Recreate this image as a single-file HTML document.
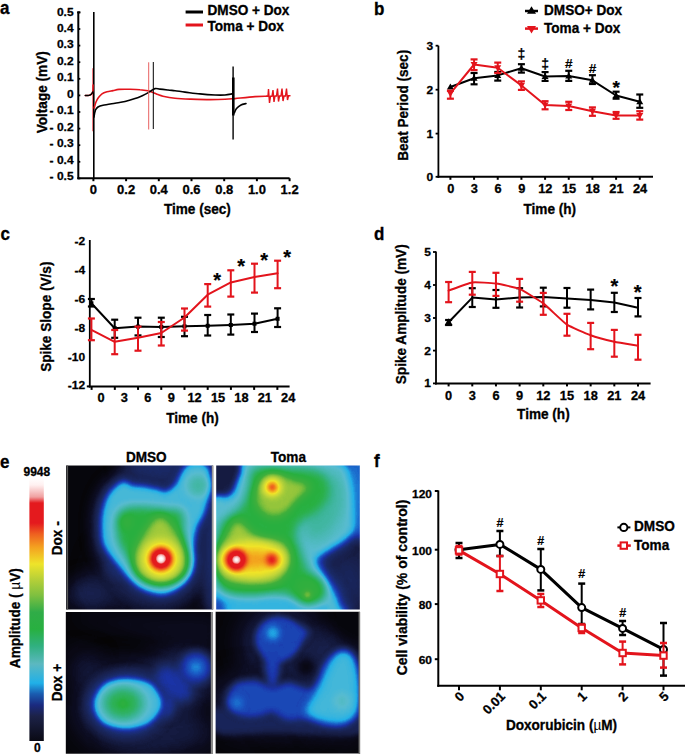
<!DOCTYPE html><html><head><meta charset="utf-8"><style>html,body{margin:0;padding:0;background:#fff;}svg{display:block;}text{font-family:"Liberation Sans", sans-serif;}</style></head><body>
<svg width="685" height="755" viewBox="0 0 685 755">
<rect width="685" height="755" fill="#fff"/>
<text transform="translate(0.10 14.00) scale(1 1.12)" font-size="17" text-anchor="start" font-weight="bold" fill="#000" stroke="#000" stroke-width="0.3">a</text>
<text transform="translate(374.00 14.50) scale(1 1.12)" font-size="17" text-anchor="start" font-weight="bold" fill="#000" stroke="#000" stroke-width="0.3">b</text>
<text transform="translate(0.40 240.00) scale(1 1.12)" font-size="17" text-anchor="start" font-weight="bold" fill="#000" stroke="#000" stroke-width="0.3">c</text>
<text transform="translate(374.00 240.00) scale(1 1.12)" font-size="17" text-anchor="start" font-weight="bold" fill="#000" stroke="#000" stroke-width="0.3">d</text>
<text transform="translate(0.00 468.00) scale(1 1.12)" font-size="17" text-anchor="start" font-weight="bold" fill="#000" stroke="#000" stroke-width="0.3">e</text>
<text transform="translate(374.00 467.40) scale(1 1.12)" font-size="17" text-anchor="start" font-weight="bold" fill="#000" stroke="#000" stroke-width="0.3">f</text>
<line x1="78.3" y1="11.5" x2="78.3" y2="179.2" stroke="#000" stroke-width="2" stroke-linecap="butt"/>
<line x1="77.3" y1="178.2" x2="289.6" y2="178.2" stroke="#000" stroke-width="2" stroke-linecap="butt"/>
<line x1="77.1" y1="12.4" x2="80.3" y2="12.4" stroke="#000" stroke-width="1.8" stroke-linecap="butt"/>
<line x1="78.3" y1="12.4" x2="80.3" y2="12.4" stroke="#000" stroke-width="1.8" stroke-linecap="butt"/>
<text transform="translate(73.60 15.50) scale(1 0.92)" font-size="12" text-anchor="end" font-weight="bold" fill="#000" stroke="#000" stroke-width="0.3">0.5</text>
<line x1="78.3" y1="29.0" x2="80.3" y2="29.0" stroke="#000" stroke-width="1.8" stroke-linecap="butt"/>
<text transform="translate(73.60 31.95) scale(1 0.92)" font-size="12" text-anchor="end" font-weight="bold" fill="#000" stroke="#000" stroke-width="0.3">0.4</text>
<line x1="78.3" y1="45.6" x2="80.3" y2="45.6" stroke="#000" stroke-width="1.8" stroke-linecap="butt"/>
<text transform="translate(73.60 48.40) scale(1 0.92)" font-size="12" text-anchor="end" font-weight="bold" fill="#000" stroke="#000" stroke-width="0.3">0.3</text>
<line x1="78.3" y1="62.2" x2="80.3" y2="62.2" stroke="#000" stroke-width="1.8" stroke-linecap="butt"/>
<text transform="translate(73.60 64.85) scale(1 0.92)" font-size="12" text-anchor="end" font-weight="bold" fill="#000" stroke="#000" stroke-width="0.3">0.2</text>
<line x1="78.3" y1="78.80000000000001" x2="80.3" y2="78.80000000000001" stroke="#000" stroke-width="1.8" stroke-linecap="butt"/>
<text transform="translate(73.60 81.30) scale(1 0.92)" font-size="12" text-anchor="end" font-weight="bold" fill="#000" stroke="#000" stroke-width="0.3">0.1</text>
<line x1="78.3" y1="95.4" x2="80.3" y2="95.4" stroke="#000" stroke-width="1.8" stroke-linecap="butt"/>
<text transform="translate(73.60 97.75) scale(1 0.92)" font-size="12" text-anchor="end" font-weight="bold" fill="#000" stroke="#000" stroke-width="0.3">0</text>
<line x1="78.3" y1="112.00000000000001" x2="80.3" y2="112.00000000000001" stroke="#000" stroke-width="1.8" stroke-linecap="butt"/>
<text transform="translate(73.60 114.20) scale(1 0.92)" font-size="12" text-anchor="end" font-weight="bold" fill="#000" stroke="#000" stroke-width="0.3">- 0.1</text>
<line x1="78.3" y1="128.60000000000002" x2="80.3" y2="128.60000000000002" stroke="#000" stroke-width="1.8" stroke-linecap="butt"/>
<text transform="translate(73.60 130.65) scale(1 0.92)" font-size="12" text-anchor="end" font-weight="bold" fill="#000" stroke="#000" stroke-width="0.3">- 0.2</text>
<line x1="78.3" y1="145.20000000000002" x2="80.3" y2="145.20000000000002" stroke="#000" stroke-width="1.8" stroke-linecap="butt"/>
<text transform="translate(73.60 147.10) scale(1 0.92)" font-size="12" text-anchor="end" font-weight="bold" fill="#000" stroke="#000" stroke-width="0.3">- 0.3</text>
<line x1="78.3" y1="161.8" x2="80.3" y2="161.8" stroke="#000" stroke-width="1.8" stroke-linecap="butt"/>
<text transform="translate(73.60 163.55) scale(1 0.92)" font-size="12" text-anchor="end" font-weight="bold" fill="#000" stroke="#000" stroke-width="0.3">- 0.4</text>
<line x1="78.3" y1="178.4" x2="80.3" y2="178.4" stroke="#000" stroke-width="1.8" stroke-linecap="butt"/>
<text transform="translate(73.60 180.00) scale(1 0.92)" font-size="12" text-anchor="end" font-weight="bold" fill="#000" stroke="#000" stroke-width="0.3">- 0.5</text>
<line x1="93.4" y1="178.2" x2="93.4" y2="181.2" stroke="#000" stroke-width="2" stroke-linecap="butt"/>
<text transform="translate(93.40 194.20) scale(1 1.05)" font-size="13" text-anchor="middle" font-weight="bold" fill="#000" stroke="#000" stroke-width="0.3">0</text>
<line x1="126.10000000000001" y1="178.2" x2="126.10000000000001" y2="181.2" stroke="#000" stroke-width="2" stroke-linecap="butt"/>
<text transform="translate(126.10 194.20) scale(1 1.05)" font-size="13" text-anchor="middle" font-weight="bold" fill="#000" stroke="#000" stroke-width="0.3">0.2</text>
<line x1="158.8" y1="178.2" x2="158.8" y2="181.2" stroke="#000" stroke-width="2" stroke-linecap="butt"/>
<text transform="translate(158.80 194.20) scale(1 1.05)" font-size="13" text-anchor="middle" font-weight="bold" fill="#000" stroke="#000" stroke-width="0.3">0.4</text>
<line x1="191.5" y1="178.2" x2="191.5" y2="181.2" stroke="#000" stroke-width="2" stroke-linecap="butt"/>
<text transform="translate(191.50 194.20) scale(1 1.05)" font-size="13" text-anchor="middle" font-weight="bold" fill="#000" stroke="#000" stroke-width="0.3">0.6</text>
<line x1="224.20000000000002" y1="178.2" x2="224.20000000000002" y2="181.2" stroke="#000" stroke-width="2" stroke-linecap="butt"/>
<text transform="translate(224.20 194.20) scale(1 1.05)" font-size="13" text-anchor="middle" font-weight="bold" fill="#000" stroke="#000" stroke-width="0.3">0.8</text>
<line x1="256.9" y1="178.2" x2="256.9" y2="181.2" stroke="#000" stroke-width="2" stroke-linecap="butt"/>
<text transform="translate(256.90 194.20) scale(1 1.05)" font-size="13" text-anchor="middle" font-weight="bold" fill="#000" stroke="#000" stroke-width="0.3">1.0</text>
<line x1="289.6" y1="178.2" x2="289.6" y2="181.2" stroke="#000" stroke-width="2" stroke-linecap="butt"/>
<text transform="translate(289.60 194.20) scale(1 1.05)" font-size="13" text-anchor="middle" font-weight="bold" fill="#000" stroke="#000" stroke-width="0.3">1.2</text>
<text transform="translate(197.40 213.80) scale(1 1.1)" font-size="13.6" text-anchor="middle" font-weight="bold" fill="#000" stroke="#000" stroke-width="0.3">Time (sec)</text>
<text transform="translate(46.50 92.30) rotate(-90) scale(1 1.1)" font-size="13.6" text-anchor="middle" font-weight="bold" fill="#000" stroke="#000" stroke-width="0.3">Voltage (mV)</text>
<line x1="185.6" y1="12" x2="203" y2="12" stroke="#000" stroke-width="3" stroke-linecap="butt"/>
<line x1="185.6" y1="25" x2="203" y2="25" stroke="#e3141c" stroke-width="3" stroke-linecap="butt"/>
<text transform="translate(207.50 15.00) scale(1 1.1)" font-size="13.6" text-anchor="start" font-weight="bold" fill="#000" stroke="#000" stroke-width="0.3">DMSO + Dox</text>
<text transform="translate(207.50 30.80) scale(1 1.1)" font-size="13.6" text-anchor="start" font-weight="bold" fill="#000" stroke="#000" stroke-width="0.3">Toma + Dox</text>
<line x1="93.1" y1="68.2" x2="93.1" y2="131.2" stroke="#e3141c" stroke-width="1.3" stroke-linecap="butt"/>
<line x1="93.8" y1="12" x2="93.8" y2="178" stroke="#000" stroke-width="1.6" stroke-linecap="butt"/>
<path d="M85.3,95.6 C85.9,95.6 88.0,95.7 89.0,95.4 C90.0,95.1 90.9,94.7 91.5,94.0 C92.1,93.3 92.5,93.0 92.8,91.5 C93.1,90.0 93.0,86.1 93.1,85.0" fill="none" stroke="#e3141c" stroke-width="1.5" stroke-linejoin="round" stroke-linecap="round"/>
<path d="M85.3,95.6 C85.9,95.6 88.0,95.7 89.0,95.4 C90.0,95.1 90.9,94.6 91.5,94.0 C92.1,93.4 92.6,92.3 92.8,92.0" fill="none" stroke="#000" stroke-width="1.5" stroke-linejoin="round" stroke-linecap="round"/>
<path d="M94.2,108.0 C94.5,107.0 95.3,103.8 96.0,102.0 C96.7,100.2 97.5,98.9 98.5,97.5 C99.5,96.1 100.6,94.8 102.0,93.8 C103.4,92.8 105.2,92.3 107.0,91.8 C108.8,91.3 111.0,91.0 113.0,90.6 C115.0,90.2 116.2,89.6 119.0,89.4 C121.8,89.2 126.5,89.2 130.0,89.3 C133.5,89.4 137.0,89.5 140.0,89.8 C143.0,90.0 145.8,90.4 148.0,90.8 C150.2,91.2 151.3,91.8 153.0,92.4 C154.7,93.0 156.3,94.0 158.0,94.6 C159.7,95.2 160.2,95.6 163.0,96.2 C165.8,96.8 170.5,97.7 175.0,98.2 C179.5,98.7 184.2,98.9 190.0,99.1 C195.8,99.3 204.2,99.6 210.0,99.6 C215.8,99.6 220.8,99.5 225.0,99.3 C229.2,99.1 230.0,99.0 235.0,98.6 C240.0,98.1 249.5,97.0 255.0,96.6 C260.5,96.2 265.8,96.3 268.0,96.2" fill="none" stroke="#e3141c" stroke-width="1.6" stroke-linejoin="round" stroke-linecap="round"/>
<path d="M94.0,117.0 C94.2,115.8 94.8,111.7 95.5,110.0 C96.2,108.3 96.8,107.8 98.0,107.0 C99.2,106.2 100.2,105.8 103.0,105.2 C105.8,104.6 111.3,103.8 115.0,103.2 C118.7,102.6 121.7,102.3 125.0,101.5 C128.3,100.7 132.5,99.4 135.0,98.6 C137.5,97.8 138.3,97.5 140.0,96.8 C141.7,96.1 143.3,95.3 145.0,94.4 C146.7,93.5 148.3,92.5 150.0,91.5 C151.7,90.5 153.3,89.0 155.0,88.6 C156.7,88.2 157.8,88.9 160.0,89.1 C162.2,89.3 165.5,89.7 168.0,90.0 C170.5,90.3 172.2,90.4 175.0,90.7 C177.8,91.0 180.8,91.6 185.0,92.1 C189.2,92.6 195.0,93.4 200.0,93.9 C205.0,94.4 210.8,94.8 215.0,95.0 C219.2,95.2 222.2,95.2 225.0,95.0 C227.8,94.8 230.8,94.1 232.0,93.9" fill="none" stroke="#000" stroke-width="1.6" stroke-linejoin="round" stroke-linecap="round"/>
<line x1="148.7" y1="62.3" x2="148.7" y2="129.5" stroke="#e86060" stroke-width="1.0" stroke-linecap="butt"/>
<line x1="153.3" y1="62" x2="153.3" y2="129" stroke="#000" stroke-width="1.0" stroke-linecap="butt"/>
<line x1="233.1" y1="66.6" x2="233.1" y2="139.6" stroke="#000" stroke-width="1.4" stroke-linecap="butt"/>
<line x1="233.3" y1="77.5" x2="233.3" y2="115.5" stroke="#000" stroke-width="2.6" stroke-linecap="butt"/>
<path d="M234.3,113.0 C234.7,112.2 235.4,109.8 236.5,108.5 C237.6,107.2 239.4,105.8 241.0,105.0 C242.6,104.2 245.2,103.8 246.0,103.5" fill="none" stroke="#000" stroke-width="1.6" stroke-linejoin="round" stroke-linecap="round"/>
<polyline points="266.5,96.3 268.0,96.3 268.5,89.0 269.5,103.0 270.5,96.3 272.0,96.3 273.0,90.0 274.0,102.0 275.0,96.0 276.5,96.0 277.5,88.5 278.5,101.5 279.5,96.0 281.0,96.0 282.0,88.5 283.0,101.0 284.0,96.0 285.5,96.0 286.5,88.5 287.5,100.0 288.5,95.8 290.0,95.8" fill="none" stroke="#e3141c" stroke-width="1.4" stroke-linejoin="miter" stroke-linecap="round"/>
<line x1="438.4" y1="45.7" x2="438.4" y2="177.8" stroke="#000" stroke-width="1.8" stroke-linecap="butt"/>
<line x1="437.4" y1="176.8" x2="653" y2="176.8" stroke="#000" stroke-width="2" stroke-linecap="butt"/>
<line x1="435.59999999999997" y1="176.8" x2="438.4" y2="176.8" stroke="#000" stroke-width="1.8" stroke-linecap="butt"/>
<text transform="translate(433.20 180.75) scale(1 0.92)" font-size="12" text-anchor="end" font-weight="bold" fill="#000" stroke="#000" stroke-width="0.3">0</text>
<line x1="435.59999999999997" y1="133.6" x2="438.4" y2="133.6" stroke="#000" stroke-width="1.8" stroke-linecap="butt"/>
<text transform="translate(433.20 137.55) scale(1 0.92)" font-size="12" text-anchor="end" font-weight="bold" fill="#000" stroke="#000" stroke-width="0.3">1</text>
<line x1="435.59999999999997" y1="89.7" x2="438.4" y2="89.7" stroke="#000" stroke-width="1.8" stroke-linecap="butt"/>
<text transform="translate(433.20 93.65) scale(1 0.92)" font-size="12" text-anchor="end" font-weight="bold" fill="#000" stroke="#000" stroke-width="0.3">2</text>
<line x1="435.59999999999997" y1="45.7" x2="438.4" y2="45.7" stroke="#000" stroke-width="1.8" stroke-linecap="butt"/>
<text transform="translate(433.20 49.65) scale(1 0.92)" font-size="12" text-anchor="end" font-weight="bold" fill="#000" stroke="#000" stroke-width="0.3">3</text>
<line x1="450.4" y1="176.8" x2="450.4" y2="179.8" stroke="#000" stroke-width="2" stroke-linecap="butt"/>
<text transform="translate(450.70 192.70) scale(1 1.05)" font-size="12.8" text-anchor="middle" font-weight="bold" fill="#000" stroke="#000" stroke-width="0.3">0</text>
<line x1="474.07" y1="176.8" x2="474.07" y2="179.8" stroke="#000" stroke-width="2" stroke-linecap="butt"/>
<text transform="translate(474.37 192.70) scale(1 1.05)" font-size="12.8" text-anchor="middle" font-weight="bold" fill="#000" stroke="#000" stroke-width="0.3">3</text>
<line x1="497.74" y1="176.8" x2="497.74" y2="179.8" stroke="#000" stroke-width="2" stroke-linecap="butt"/>
<text transform="translate(498.04 192.70) scale(1 1.05)" font-size="12.8" text-anchor="middle" font-weight="bold" fill="#000" stroke="#000" stroke-width="0.3">6</text>
<line x1="521.41" y1="176.8" x2="521.41" y2="179.8" stroke="#000" stroke-width="2" stroke-linecap="butt"/>
<text transform="translate(521.71 192.70) scale(1 1.05)" font-size="12.8" text-anchor="middle" font-weight="bold" fill="#000" stroke="#000" stroke-width="0.3">9</text>
<line x1="545.0799999999999" y1="176.8" x2="545.0799999999999" y2="179.8" stroke="#000" stroke-width="2" stroke-linecap="butt"/>
<text transform="translate(545.38 192.70) scale(1 1.05)" font-size="12.8" text-anchor="middle" font-weight="bold" fill="#000" stroke="#000" stroke-width="0.3">12</text>
<line x1="568.75" y1="176.8" x2="568.75" y2="179.8" stroke="#000" stroke-width="2" stroke-linecap="butt"/>
<text transform="translate(569.05 192.70) scale(1 1.05)" font-size="12.8" text-anchor="middle" font-weight="bold" fill="#000" stroke="#000" stroke-width="0.3">15</text>
<line x1="592.42" y1="176.8" x2="592.42" y2="179.8" stroke="#000" stroke-width="2" stroke-linecap="butt"/>
<text transform="translate(592.72 192.70) scale(1 1.05)" font-size="12.8" text-anchor="middle" font-weight="bold" fill="#000" stroke="#000" stroke-width="0.3">18</text>
<line x1="616.0899999999999" y1="176.8" x2="616.0899999999999" y2="179.8" stroke="#000" stroke-width="2" stroke-linecap="butt"/>
<text transform="translate(616.39 192.70) scale(1 1.05)" font-size="12.8" text-anchor="middle" font-weight="bold" fill="#000" stroke="#000" stroke-width="0.3">21</text>
<line x1="639.76" y1="176.8" x2="639.76" y2="179.8" stroke="#000" stroke-width="2" stroke-linecap="butt"/>
<text transform="translate(640.06 192.70) scale(1 1.05)" font-size="12.8" text-anchor="middle" font-weight="bold" fill="#000" stroke="#000" stroke-width="0.3">24</text>
<text transform="translate(549.80 214.10) scale(1 1.1)" font-size="13.6" text-anchor="middle" font-weight="bold" fill="#000" stroke="#000" stroke-width="0.3">Time (h)</text>
<text transform="translate(407.50 105.30) rotate(-90) scale(1 1.1)" font-size="13.6" text-anchor="middle" font-weight="bold" fill="#000" stroke="#000" stroke-width="0.3">Beat Period (sec)</text>
<line x1="525" y1="11" x2="538" y2="11" stroke="#000" stroke-width="2.5" stroke-linecap="butt"/>
<path d="M531.5,6.2 L536,13.8 L527,13.8 Z" fill="#000"/>
<line x1="525" y1="28.6" x2="538" y2="28.6" stroke="#e3141c" stroke-width="2.5" stroke-linecap="butt"/>
<path d="M531.5,33.6 L536,26 L527,26 Z" fill="#e3141c"/>
<text transform="translate(544.00 15.00) scale(1 1.1)" font-size="13.6" text-anchor="start" font-weight="bold" fill="#000" stroke="#000" stroke-width="0.3">DMSO+ Dox</text>
<text transform="translate(544.00 32.80) scale(1 1.1)" font-size="13.6" text-anchor="start" font-weight="bold" fill="#000" stroke="#000" stroke-width="0.3">Toma + Dox</text>
<line x1="474.07" y1="73" x2="474.07" y2="84.3" stroke="#000" stroke-width="2" stroke-linecap="butt"/>
<line x1="470.57" y1="73" x2="477.57" y2="73" stroke="#000" stroke-width="2.2" stroke-linecap="butt"/>
<line x1="470.57" y1="84.3" x2="477.57" y2="84.3" stroke="#000" stroke-width="2.2" stroke-linecap="butt"/>
<line x1="497.74" y1="72" x2="497.74" y2="80.6" stroke="#000" stroke-width="2" stroke-linecap="butt"/>
<line x1="494.24" y1="72" x2="501.24" y2="72" stroke="#000" stroke-width="2.2" stroke-linecap="butt"/>
<line x1="494.24" y1="80.6" x2="501.24" y2="80.6" stroke="#000" stroke-width="2.2" stroke-linecap="butt"/>
<line x1="521.41" y1="64.2" x2="521.41" y2="72.6" stroke="#000" stroke-width="2" stroke-linecap="butt"/>
<line x1="517.91" y1="64.2" x2="524.91" y2="64.2" stroke="#000" stroke-width="2.2" stroke-linecap="butt"/>
<line x1="517.91" y1="72.6" x2="524.91" y2="72.6" stroke="#000" stroke-width="2.2" stroke-linecap="butt"/>
<line x1="545.0799999999999" y1="72.1" x2="545.0799999999999" y2="80.9" stroke="#000" stroke-width="2" stroke-linecap="butt"/>
<line x1="541.5799999999999" y1="72.1" x2="548.5799999999999" y2="72.1" stroke="#000" stroke-width="2.2" stroke-linecap="butt"/>
<line x1="541.5799999999999" y1="80.9" x2="548.5799999999999" y2="80.9" stroke="#000" stroke-width="2.2" stroke-linecap="butt"/>
<line x1="568.75" y1="70.8" x2="568.75" y2="80.9" stroke="#000" stroke-width="2" stroke-linecap="butt"/>
<line x1="565.25" y1="70.8" x2="572.25" y2="70.8" stroke="#000" stroke-width="2.2" stroke-linecap="butt"/>
<line x1="565.25" y1="80.9" x2="572.25" y2="80.9" stroke="#000" stroke-width="2.2" stroke-linecap="butt"/>
<line x1="592.42" y1="75.2" x2="592.42" y2="84" stroke="#000" stroke-width="2" stroke-linecap="butt"/>
<line x1="588.92" y1="75.2" x2="595.92" y2="75.2" stroke="#000" stroke-width="2.2" stroke-linecap="butt"/>
<line x1="588.92" y1="84" x2="595.92" y2="84" stroke="#000" stroke-width="2.2" stroke-linecap="butt"/>
<line x1="616.0899999999999" y1="91.7" x2="616.0899999999999" y2="98.7" stroke="#000" stroke-width="2" stroke-linecap="butt"/>
<line x1="612.5899999999999" y1="91.7" x2="619.5899999999999" y2="91.7" stroke="#000" stroke-width="2.2" stroke-linecap="butt"/>
<line x1="612.5899999999999" y1="98.7" x2="619.5899999999999" y2="98.7" stroke="#000" stroke-width="2.2" stroke-linecap="butt"/>
<line x1="639.76" y1="94.5" x2="639.76" y2="107.8" stroke="#000" stroke-width="2" stroke-linecap="butt"/>
<line x1="636.26" y1="94.5" x2="643.26" y2="94.5" stroke="#000" stroke-width="2.2" stroke-linecap="butt"/>
<line x1="636.26" y1="107.8" x2="643.26" y2="107.8" stroke="#000" stroke-width="2.2" stroke-linecap="butt"/>
<polyline points="450.4,87.0 474.1,78.2 497.7,75.4 521.4,68.2 545.1,76.5 568.8,76.1 592.4,80.3 616.1,95.5 639.8,101.7" fill="none" stroke="#000" stroke-width="2" stroke-linejoin="round" stroke-linecap="round"/>
<path d="M450.4,83.5 L453.9,89.5 L446.9,89.5 Z" fill="#000"/>
<path d="M474.07,74.7 L477.57,80.7 L470.57,80.7 Z" fill="#000"/>
<path d="M497.74,71.9 L501.24,77.9 L494.24,77.9 Z" fill="#000"/>
<path d="M521.41,64.7 L524.91,70.7 L517.91,70.7 Z" fill="#000"/>
<path d="M545.0799999999999,73.0 L548.5799999999999,79.0 L541.5799999999999,79.0 Z" fill="#000"/>
<path d="M568.75,72.6 L572.25,78.6 L565.25,78.6 Z" fill="#000"/>
<path d="M592.42,76.8 L595.92,82.8 L588.92,82.8 Z" fill="#000"/>
<path d="M616.0899999999999,92.0 L619.5899999999999,98.0 L612.5899999999999,98.0 Z" fill="#000"/>
<path d="M639.76,98.2 L643.26,104.2 L636.26,104.2 Z" fill="#000"/>
<line x1="450.4" y1="90.7" x2="450.4" y2="98.7" stroke="#e3141c" stroke-width="2" stroke-linecap="butt"/>
<line x1="446.9" y1="90.7" x2="453.9" y2="90.7" stroke="#e3141c" stroke-width="2.2" stroke-linecap="butt"/>
<line x1="446.9" y1="98.7" x2="453.9" y2="98.7" stroke="#e3141c" stroke-width="2.2" stroke-linecap="butt"/>
<line x1="474.07" y1="59.4" x2="474.07" y2="70.1" stroke="#e3141c" stroke-width="2" stroke-linecap="butt"/>
<line x1="470.57" y1="59.4" x2="477.57" y2="59.4" stroke="#e3141c" stroke-width="2.2" stroke-linecap="butt"/>
<line x1="470.57" y1="70.1" x2="477.57" y2="70.1" stroke="#e3141c" stroke-width="2.2" stroke-linecap="butt"/>
<line x1="497.74" y1="62.6" x2="497.74" y2="73" stroke="#e3141c" stroke-width="2" stroke-linecap="butt"/>
<line x1="494.24" y1="62.6" x2="501.24" y2="62.6" stroke="#e3141c" stroke-width="2.2" stroke-linecap="butt"/>
<line x1="494.24" y1="73" x2="501.24" y2="73" stroke="#e3141c" stroke-width="2.2" stroke-linecap="butt"/>
<line x1="521.41" y1="81.4" x2="521.41" y2="89.9" stroke="#e3141c" stroke-width="2" stroke-linecap="butt"/>
<line x1="517.91" y1="81.4" x2="524.91" y2="81.4" stroke="#e3141c" stroke-width="2.2" stroke-linecap="butt"/>
<line x1="517.91" y1="89.9" x2="524.91" y2="89.9" stroke="#e3141c" stroke-width="2.2" stroke-linecap="butt"/>
<line x1="545.0799999999999" y1="101.2" x2="545.0799999999999" y2="109.3" stroke="#e3141c" stroke-width="2" stroke-linecap="butt"/>
<line x1="541.5799999999999" y1="101.2" x2="548.5799999999999" y2="101.2" stroke="#e3141c" stroke-width="2.2" stroke-linecap="butt"/>
<line x1="541.5799999999999" y1="109.3" x2="548.5799999999999" y2="109.3" stroke="#e3141c" stroke-width="2.2" stroke-linecap="butt"/>
<line x1="568.75" y1="101.8" x2="568.75" y2="110" stroke="#e3141c" stroke-width="2" stroke-linecap="butt"/>
<line x1="565.25" y1="101.8" x2="572.25" y2="101.8" stroke="#e3141c" stroke-width="2.2" stroke-linecap="butt"/>
<line x1="565.25" y1="110" x2="572.25" y2="110" stroke="#e3141c" stroke-width="2.2" stroke-linecap="butt"/>
<line x1="592.42" y1="107.4" x2="592.42" y2="115.8" stroke="#e3141c" stroke-width="2" stroke-linecap="butt"/>
<line x1="588.92" y1="107.4" x2="595.92" y2="107.4" stroke="#e3141c" stroke-width="2.2" stroke-linecap="butt"/>
<line x1="588.92" y1="115.8" x2="595.92" y2="115.8" stroke="#e3141c" stroke-width="2.2" stroke-linecap="butt"/>
<line x1="616.0899999999999" y1="112" x2="616.0899999999999" y2="118.8" stroke="#e3141c" stroke-width="2" stroke-linecap="butt"/>
<line x1="612.5899999999999" y1="112" x2="619.5899999999999" y2="112" stroke="#e3141c" stroke-width="2.2" stroke-linecap="butt"/>
<line x1="612.5899999999999" y1="118.8" x2="619.5899999999999" y2="118.8" stroke="#e3141c" stroke-width="2.2" stroke-linecap="butt"/>
<line x1="639.76" y1="111.2" x2="639.76" y2="119.6" stroke="#e3141c" stroke-width="2" stroke-linecap="butt"/>
<line x1="636.26" y1="111.2" x2="643.26" y2="111.2" stroke="#e3141c" stroke-width="2.2" stroke-linecap="butt"/>
<line x1="636.26" y1="119.6" x2="643.26" y2="119.6" stroke="#e3141c" stroke-width="2.2" stroke-linecap="butt"/>
<polyline points="450.4,93.4 474.1,64.5 497.7,67.7 521.4,85.4 545.1,105.0 568.8,105.9 592.4,111.2 616.1,115.4 639.8,115.4" fill="none" stroke="#e3141c" stroke-width="2" stroke-linejoin="round" stroke-linecap="round"/>
<path d="M450.4,96.9 L453.9,90.9 L446.9,90.9 Z" fill="#e3141c"/>
<path d="M474.07,68.0 L477.57,62.0 L470.57,62.0 Z" fill="#e3141c"/>
<path d="M497.74,71.2 L501.24,65.2 L494.24,65.2 Z" fill="#e3141c"/>
<path d="M521.41,88.9 L524.91,82.9 L517.91,82.9 Z" fill="#e3141c"/>
<path d="M545.0799999999999,108.5 L548.5799999999999,102.5 L541.5799999999999,102.5 Z" fill="#e3141c"/>
<path d="M568.75,109.4 L572.25,103.4 L565.25,103.4 Z" fill="#e3141c"/>
<path d="M592.42,114.7 L595.92,108.7 L588.92,108.7 Z" fill="#e3141c"/>
<path d="M616.0899999999999,118.9 L619.5899999999999,112.9 L612.5899999999999,112.9 Z" fill="#e3141c"/>
<path d="M639.76,118.9 L643.26,112.9 L636.26,112.9 Z" fill="#e3141c"/>
<text transform="translate(521.41 58.69)" font-size="14" text-anchor="middle" font-weight="bold" fill="#000" stroke="#000" stroke-width="0.2">‡</text>
<text transform="translate(545.08 68.69)" font-size="14" text-anchor="middle" font-weight="bold" fill="#000" stroke="#000" stroke-width="0.2">‡</text>
<text transform="translate(568.75 67.72)" font-size="13.5" text-anchor="middle" font-weight="bold" fill="#000" stroke="#000" stroke-width="0.2">#</text>
<text transform="translate(592.42 72.52)" font-size="13.5" text-anchor="middle" font-weight="bold" fill="#000" stroke="#000" stroke-width="0.2">#</text>
<text transform="translate(616.09 93.79)" font-size="19" text-anchor="middle" font-weight="bold" fill="#000" stroke="#000" stroke-width="0.2">*</text>
<line x1="89.8" y1="240" x2="89.8" y2="387.4" stroke="#000" stroke-width="1.8" stroke-linecap="butt"/>
<line x1="88.8" y1="386.4" x2="289.6" y2="386.4" stroke="#000" stroke-width="2" stroke-linecap="butt"/>
<line x1="86.8" y1="386.4" x2="89.8" y2="386.4" stroke="#000" stroke-width="2" stroke-linecap="butt"/>
<text transform="translate(85.20 244.95) scale(1 0.92)" font-size="12" text-anchor="end" font-weight="bold" fill="#000" stroke="#000" stroke-width="0.3">-2</text>
<text transform="translate(85.20 273.85) scale(1 0.92)" font-size="12" text-anchor="end" font-weight="bold" fill="#000" stroke="#000" stroke-width="0.3">-4</text>
<text transform="translate(85.20 302.75) scale(1 0.92)" font-size="12" text-anchor="end" font-weight="bold" fill="#000" stroke="#000" stroke-width="0.3">-6</text>
<text transform="translate(85.20 331.65) scale(1 0.92)" font-size="12" text-anchor="end" font-weight="bold" fill="#000" stroke="#000" stroke-width="0.3">-8</text>
<text transform="translate(85.20 360.55) scale(1 0.92)" font-size="12" text-anchor="end" font-weight="bold" fill="#000" stroke="#000" stroke-width="0.3">-10</text>
<text transform="translate(85.20 389.45) scale(1 0.92)" font-size="12" text-anchor="end" font-weight="bold" fill="#000" stroke="#000" stroke-width="0.3">-12</text>
<line x1="91.6" y1="386.4" x2="91.6" y2="389.9" stroke="#000" stroke-width="2" stroke-linecap="butt"/>
<text transform="translate(101.00 401.80) scale(1 1.05)" font-size="12.8" text-anchor="middle" font-weight="bold" fill="#000" stroke="#000" stroke-width="0.3">0</text>
<line x1="114.82" y1="386.4" x2="114.82" y2="389.9" stroke="#000" stroke-width="2" stroke-linecap="butt"/>
<text transform="translate(124.40 401.80) scale(1 1.05)" font-size="12.8" text-anchor="middle" font-weight="bold" fill="#000" stroke="#000" stroke-width="0.3">3</text>
<line x1="138.04" y1="386.4" x2="138.04" y2="389.9" stroke="#000" stroke-width="2" stroke-linecap="butt"/>
<text transform="translate(147.80 401.80) scale(1 1.05)" font-size="12.8" text-anchor="middle" font-weight="bold" fill="#000" stroke="#000" stroke-width="0.3">6</text>
<line x1="161.26" y1="386.4" x2="161.26" y2="389.9" stroke="#000" stroke-width="2" stroke-linecap="butt"/>
<text transform="translate(171.20 401.80) scale(1 1.05)" font-size="12.8" text-anchor="middle" font-weight="bold" fill="#000" stroke="#000" stroke-width="0.3">9</text>
<line x1="184.48" y1="386.4" x2="184.48" y2="389.9" stroke="#000" stroke-width="2" stroke-linecap="butt"/>
<text transform="translate(194.60 401.80) scale(1 1.05)" font-size="12.8" text-anchor="middle" font-weight="bold" fill="#000" stroke="#000" stroke-width="0.3">12</text>
<line x1="207.7" y1="386.4" x2="207.7" y2="389.9" stroke="#000" stroke-width="2" stroke-linecap="butt"/>
<text transform="translate(218.00 401.80) scale(1 1.05)" font-size="12.8" text-anchor="middle" font-weight="bold" fill="#000" stroke="#000" stroke-width="0.3">15</text>
<line x1="230.92" y1="386.4" x2="230.92" y2="389.9" stroke="#000" stroke-width="2" stroke-linecap="butt"/>
<text transform="translate(241.40 401.80) scale(1 1.05)" font-size="12.8" text-anchor="middle" font-weight="bold" fill="#000" stroke="#000" stroke-width="0.3">18</text>
<line x1="254.14" y1="386.4" x2="254.14" y2="389.9" stroke="#000" stroke-width="2" stroke-linecap="butt"/>
<text transform="translate(264.80 401.80) scale(1 1.05)" font-size="12.8" text-anchor="middle" font-weight="bold" fill="#000" stroke="#000" stroke-width="0.3">21</text>
<line x1="277.36" y1="386.4" x2="277.36" y2="389.9" stroke="#000" stroke-width="2" stroke-linecap="butt"/>
<text transform="translate(288.20 401.80) scale(1 1.05)" font-size="12.8" text-anchor="middle" font-weight="bold" fill="#000" stroke="#000" stroke-width="0.3">24</text>
<text transform="translate(192.50 423.10) scale(1 1.1)" font-size="13.6" text-anchor="middle" font-weight="bold" fill="#000" stroke="#000" stroke-width="0.3">Time (h)</text>
<text transform="translate(51.30 316.70) rotate(-90) scale(1 1.1)" font-size="13.6" text-anchor="middle" font-weight="bold" fill="#000" stroke="#000" stroke-width="0.3">Spike Slope (V/s)</text>
<line x1="91.4" y1="299" x2="91.4" y2="306.5" stroke="#000" stroke-width="2" stroke-linecap="butt"/>
<line x1="87.9" y1="299" x2="94.9" y2="299" stroke="#000" stroke-width="2.2" stroke-linecap="butt"/>
<line x1="87.9" y1="306.5" x2="94.9" y2="306.5" stroke="#000" stroke-width="2.2" stroke-linecap="butt"/>
<line x1="114.7" y1="319.7" x2="114.7" y2="337.8" stroke="#000" stroke-width="2" stroke-linecap="butt"/>
<line x1="111.2" y1="319.7" x2="118.2" y2="319.7" stroke="#000" stroke-width="2.2" stroke-linecap="butt"/>
<line x1="111.2" y1="337.8" x2="118.2" y2="337.8" stroke="#000" stroke-width="2.2" stroke-linecap="butt"/>
<line x1="138" y1="317.7" x2="138" y2="335.4" stroke="#000" stroke-width="2" stroke-linecap="butt"/>
<line x1="134.5" y1="317.7" x2="141.5" y2="317.7" stroke="#000" stroke-width="2.2" stroke-linecap="butt"/>
<line x1="134.5" y1="335.4" x2="141.5" y2="335.4" stroke="#000" stroke-width="2.2" stroke-linecap="butt"/>
<line x1="161.3" y1="317.7" x2="161.3" y2="337" stroke="#000" stroke-width="2" stroke-linecap="butt"/>
<line x1="157.8" y1="317.7" x2="164.8" y2="317.7" stroke="#000" stroke-width="2.2" stroke-linecap="butt"/>
<line x1="157.8" y1="337" x2="164.8" y2="337" stroke="#000" stroke-width="2.2" stroke-linecap="butt"/>
<line x1="184.5" y1="316.8" x2="184.5" y2="336.2" stroke="#000" stroke-width="2" stroke-linecap="butt"/>
<line x1="181.0" y1="316.8" x2="188.0" y2="316.8" stroke="#000" stroke-width="2.2" stroke-linecap="butt"/>
<line x1="181.0" y1="336.2" x2="188.0" y2="336.2" stroke="#000" stroke-width="2.2" stroke-linecap="butt"/>
<line x1="207.7" y1="315" x2="207.7" y2="335.5" stroke="#000" stroke-width="2" stroke-linecap="butt"/>
<line x1="204.2" y1="315" x2="211.2" y2="315" stroke="#000" stroke-width="2.2" stroke-linecap="butt"/>
<line x1="204.2" y1="335.5" x2="211.2" y2="335.5" stroke="#000" stroke-width="2.2" stroke-linecap="butt"/>
<line x1="230.8" y1="314.5" x2="230.8" y2="334.6" stroke="#000" stroke-width="2" stroke-linecap="butt"/>
<line x1="227.3" y1="314.5" x2="234.3" y2="314.5" stroke="#000" stroke-width="2.2" stroke-linecap="butt"/>
<line x1="227.3" y1="334.6" x2="234.3" y2="334.6" stroke="#000" stroke-width="2.2" stroke-linecap="butt"/>
<line x1="254.5" y1="313.6" x2="254.5" y2="332" stroke="#000" stroke-width="2" stroke-linecap="butt"/>
<line x1="251.0" y1="313.6" x2="258.0" y2="313.6" stroke="#000" stroke-width="2.2" stroke-linecap="butt"/>
<line x1="251.0" y1="332" x2="258.0" y2="332" stroke="#000" stroke-width="2.2" stroke-linecap="butt"/>
<line x1="277.6" y1="308.3" x2="277.6" y2="327" stroke="#000" stroke-width="2" stroke-linecap="butt"/>
<line x1="274.1" y1="308.3" x2="281.1" y2="308.3" stroke="#000" stroke-width="2.2" stroke-linecap="butt"/>
<line x1="274.1" y1="327" x2="281.1" y2="327" stroke="#000" stroke-width="2.2" stroke-linecap="butt"/>
<polyline points="91.4,303.3 114.7,328.2 138.0,326.6 161.3,327.0 184.5,326.3 207.7,325.8 230.8,325.0 254.5,323.7 277.6,318.8" fill="none" stroke="#000" stroke-width="2" stroke-linejoin="round" stroke-linecap="round"/>
<rect x="89.4" y="301.3" width="4" height="4" fill="#000"/>
<rect x="112.7" y="326.2" width="4" height="4" fill="#000"/>
<rect x="136" y="324.6" width="4" height="4" fill="#000"/>
<rect x="159.3" y="325" width="4" height="4" fill="#000"/>
<rect x="182.5" y="324.3" width="4" height="4" fill="#000"/>
<rect x="205.7" y="323.8" width="4" height="4" fill="#000"/>
<rect x="228.8" y="323" width="4" height="4" fill="#000"/>
<rect x="252.5" y="321.7" width="4" height="4" fill="#000"/>
<rect x="275.6" y="316.8" width="4" height="4" fill="#000"/>
<line x1="91.4" y1="318.5" x2="91.4" y2="340.2" stroke="#e3141c" stroke-width="2" stroke-linecap="butt"/>
<line x1="87.9" y1="318.5" x2="94.9" y2="318.5" stroke="#e3141c" stroke-width="2.2" stroke-linecap="butt"/>
<line x1="87.9" y1="340.2" x2="94.9" y2="340.2" stroke="#e3141c" stroke-width="2.2" stroke-linecap="butt"/>
<line x1="114.7" y1="330" x2="114.7" y2="354.2" stroke="#e3141c" stroke-width="2" stroke-linecap="butt"/>
<line x1="111.2" y1="330" x2="118.2" y2="330" stroke="#e3141c" stroke-width="2.2" stroke-linecap="butt"/>
<line x1="111.2" y1="354.2" x2="118.2" y2="354.2" stroke="#e3141c" stroke-width="2.2" stroke-linecap="butt"/>
<line x1="138" y1="326.6" x2="138" y2="350.7" stroke="#e3141c" stroke-width="2" stroke-linecap="butt"/>
<line x1="134.5" y1="326.6" x2="141.5" y2="326.6" stroke="#e3141c" stroke-width="2.2" stroke-linecap="butt"/>
<line x1="134.5" y1="350.7" x2="141.5" y2="350.7" stroke="#e3141c" stroke-width="2.2" stroke-linecap="butt"/>
<line x1="161.3" y1="322" x2="161.3" y2="345.5" stroke="#e3141c" stroke-width="2" stroke-linecap="butt"/>
<line x1="157.8" y1="322" x2="164.8" y2="322" stroke="#e3141c" stroke-width="2.2" stroke-linecap="butt"/>
<line x1="157.8" y1="345.5" x2="164.8" y2="345.5" stroke="#e3141c" stroke-width="2.2" stroke-linecap="butt"/>
<line x1="184.5" y1="308.5" x2="184.5" y2="330.6" stroke="#e3141c" stroke-width="2" stroke-linecap="butt"/>
<line x1="181.0" y1="308.5" x2="188.0" y2="308.5" stroke="#e3141c" stroke-width="2.2" stroke-linecap="butt"/>
<line x1="181.0" y1="330.6" x2="188.0" y2="330.6" stroke="#e3141c" stroke-width="2.2" stroke-linecap="butt"/>
<line x1="207.7" y1="284.1" x2="207.7" y2="306.6" stroke="#e3141c" stroke-width="2" stroke-linecap="butt"/>
<line x1="204.2" y1="284.1" x2="211.2" y2="284.1" stroke="#e3141c" stroke-width="2.2" stroke-linecap="butt"/>
<line x1="204.2" y1="306.6" x2="211.2" y2="306.6" stroke="#e3141c" stroke-width="2.2" stroke-linecap="butt"/>
<line x1="230.8" y1="270.3" x2="230.8" y2="296.6" stroke="#e3141c" stroke-width="2" stroke-linecap="butt"/>
<line x1="227.3" y1="270.3" x2="234.3" y2="270.3" stroke="#e3141c" stroke-width="2.2" stroke-linecap="butt"/>
<line x1="227.3" y1="296.6" x2="234.3" y2="296.6" stroke="#e3141c" stroke-width="2.2" stroke-linecap="butt"/>
<line x1="254.5" y1="263.7" x2="254.5" y2="292.6" stroke="#e3141c" stroke-width="2" stroke-linecap="butt"/>
<line x1="251.0" y1="263.7" x2="258.0" y2="263.7" stroke="#e3141c" stroke-width="2.2" stroke-linecap="butt"/>
<line x1="251.0" y1="292.6" x2="258.0" y2="292.6" stroke="#e3141c" stroke-width="2.2" stroke-linecap="butt"/>
<line x1="277.6" y1="260.7" x2="277.6" y2="288.2" stroke="#e3141c" stroke-width="2" stroke-linecap="butt"/>
<line x1="274.1" y1="260.7" x2="281.1" y2="260.7" stroke="#e3141c" stroke-width="2.2" stroke-linecap="butt"/>
<line x1="274.1" y1="288.2" x2="281.1" y2="288.2" stroke="#e3141c" stroke-width="2.2" stroke-linecap="butt"/>
<polyline points="91.4,329.8 114.7,341.8 138.0,337.8 161.3,333.0 184.5,317.5 207.7,294.7 230.8,282.4 254.5,277.1 277.6,273.3" fill="none" stroke="#e3141c" stroke-width="2" stroke-linejoin="round" stroke-linecap="round"/>
<text transform="translate(217.10 287.40)" font-size="20" text-anchor="middle" font-weight="bold" fill="#000" stroke="#000" stroke-width="0.2">*</text>
<text transform="translate(241.10 272.90)" font-size="20" text-anchor="middle" font-weight="bold" fill="#000" stroke="#000" stroke-width="0.2">*</text>
<text transform="translate(264.10 266.80)" font-size="20" text-anchor="middle" font-weight="bold" fill="#000" stroke="#000" stroke-width="0.2">*</text>
<text transform="translate(287.10 264.10)" font-size="20" text-anchor="middle" font-weight="bold" fill="#000" stroke="#000" stroke-width="0.2">*</text>
<line x1="436" y1="251.5" x2="436" y2="384.4" stroke="#000" stroke-width="1.8" stroke-linecap="butt"/>
<line x1="435" y1="383.4" x2="650.6" y2="383.4" stroke="#000" stroke-width="2" stroke-linecap="butt"/>
<line x1="433" y1="383.4" x2="436" y2="383.4" stroke="#000" stroke-width="1.8" stroke-linecap="butt"/>
<text transform="translate(430.80 387.35) scale(1 0.92)" font-size="12" text-anchor="end" font-weight="bold" fill="#000" stroke="#000" stroke-width="0.3">1</text>
<line x1="433" y1="350.6" x2="436" y2="350.6" stroke="#000" stroke-width="1.8" stroke-linecap="butt"/>
<text transform="translate(430.80 354.55) scale(1 0.92)" font-size="12" text-anchor="end" font-weight="bold" fill="#000" stroke="#000" stroke-width="0.3">2</text>
<line x1="433" y1="318" x2="436" y2="318" stroke="#000" stroke-width="1.8" stroke-linecap="butt"/>
<text transform="translate(430.80 321.95) scale(1 0.92)" font-size="12" text-anchor="end" font-weight="bold" fill="#000" stroke="#000" stroke-width="0.3">3</text>
<line x1="433" y1="285" x2="436" y2="285" stroke="#000" stroke-width="1.8" stroke-linecap="butt"/>
<text transform="translate(430.80 288.95) scale(1 0.92)" font-size="12" text-anchor="end" font-weight="bold" fill="#000" stroke="#000" stroke-width="0.3">4</text>
<line x1="433" y1="252" x2="436" y2="252" stroke="#000" stroke-width="1.8" stroke-linecap="butt"/>
<text transform="translate(430.80 255.95) scale(1 0.92)" font-size="12" text-anchor="end" font-weight="bold" fill="#000" stroke="#000" stroke-width="0.3">5</text>
<line x1="448.6" y1="383.4" x2="448.6" y2="386.4" stroke="#000" stroke-width="2" stroke-linecap="butt"/>
<text transform="translate(448.60 399.60) scale(1 1.05)" font-size="12.8" text-anchor="middle" font-weight="bold" fill="#000" stroke="#000" stroke-width="0.3">0</text>
<line x1="472.27500000000003" y1="383.4" x2="472.27500000000003" y2="386.4" stroke="#000" stroke-width="2" stroke-linecap="butt"/>
<text transform="translate(472.28 399.60) scale(1 1.05)" font-size="12.8" text-anchor="middle" font-weight="bold" fill="#000" stroke="#000" stroke-width="0.3">3</text>
<line x1="495.95000000000005" y1="383.4" x2="495.95000000000005" y2="386.4" stroke="#000" stroke-width="2" stroke-linecap="butt"/>
<text transform="translate(495.95 399.60) scale(1 1.05)" font-size="12.8" text-anchor="middle" font-weight="bold" fill="#000" stroke="#000" stroke-width="0.3">6</text>
<line x1="519.625" y1="383.4" x2="519.625" y2="386.4" stroke="#000" stroke-width="2" stroke-linecap="butt"/>
<text transform="translate(519.62 399.60) scale(1 1.05)" font-size="12.8" text-anchor="middle" font-weight="bold" fill="#000" stroke="#000" stroke-width="0.3">9</text>
<line x1="543.3000000000001" y1="383.4" x2="543.3000000000001" y2="386.4" stroke="#000" stroke-width="2" stroke-linecap="butt"/>
<text transform="translate(543.30 399.60) scale(1 1.05)" font-size="12.8" text-anchor="middle" font-weight="bold" fill="#000" stroke="#000" stroke-width="0.3">12</text>
<line x1="566.975" y1="383.4" x2="566.975" y2="386.4" stroke="#000" stroke-width="2" stroke-linecap="butt"/>
<text transform="translate(566.98 399.60) scale(1 1.05)" font-size="12.8" text-anchor="middle" font-weight="bold" fill="#000" stroke="#000" stroke-width="0.3">15</text>
<line x1="590.6500000000001" y1="383.4" x2="590.6500000000001" y2="386.4" stroke="#000" stroke-width="2" stroke-linecap="butt"/>
<text transform="translate(590.65 399.60) scale(1 1.05)" font-size="12.8" text-anchor="middle" font-weight="bold" fill="#000" stroke="#000" stroke-width="0.3">18</text>
<line x1="614.325" y1="383.4" x2="614.325" y2="386.4" stroke="#000" stroke-width="2" stroke-linecap="butt"/>
<text transform="translate(614.33 399.60) scale(1 1.05)" font-size="12.8" text-anchor="middle" font-weight="bold" fill="#000" stroke="#000" stroke-width="0.3">21</text>
<line x1="638.0" y1="383.4" x2="638.0" y2="386.4" stroke="#000" stroke-width="2" stroke-linecap="butt"/>
<text transform="translate(638.00 399.60) scale(1 1.05)" font-size="12.8" text-anchor="middle" font-weight="bold" fill="#000" stroke="#000" stroke-width="0.3">24</text>
<text transform="translate(543.40 419.10) scale(1 1.1)" font-size="13.6" text-anchor="middle" font-weight="bold" fill="#000" stroke="#000" stroke-width="0.3">Time (h)</text>
<text transform="translate(405.80 314.25) rotate(-90) scale(1 1.1)" font-size="13.6" text-anchor="middle" font-weight="bold" fill="#000" stroke="#000" stroke-width="0.3">Spike Amplitude (mV)</text>
<line x1="448.6" y1="320" x2="448.6" y2="325" stroke="#000" stroke-width="2" stroke-linecap="butt"/>
<line x1="445.1" y1="320" x2="452.1" y2="320" stroke="#000" stroke-width="2.2" stroke-linecap="butt"/>
<line x1="445.1" y1="325" x2="452.1" y2="325" stroke="#000" stroke-width="2.2" stroke-linecap="butt"/>
<line x1="472.27500000000003" y1="288.2" x2="472.27500000000003" y2="307" stroke="#000" stroke-width="2" stroke-linecap="butt"/>
<line x1="468.77500000000003" y1="288.2" x2="475.77500000000003" y2="288.2" stroke="#000" stroke-width="2.2" stroke-linecap="butt"/>
<line x1="468.77500000000003" y1="307" x2="475.77500000000003" y2="307" stroke="#000" stroke-width="2.2" stroke-linecap="butt"/>
<line x1="495.95000000000005" y1="290" x2="495.95000000000005" y2="307.8" stroke="#000" stroke-width="2" stroke-linecap="butt"/>
<line x1="492.45000000000005" y1="290" x2="499.45000000000005" y2="290" stroke="#000" stroke-width="2.2" stroke-linecap="butt"/>
<line x1="492.45000000000005" y1="307.8" x2="499.45000000000005" y2="307.8" stroke="#000" stroke-width="2.2" stroke-linecap="butt"/>
<line x1="519.625" y1="288.2" x2="519.625" y2="307.5" stroke="#000" stroke-width="2" stroke-linecap="butt"/>
<line x1="516.125" y1="288.2" x2="523.125" y2="288.2" stroke="#000" stroke-width="2.2" stroke-linecap="butt"/>
<line x1="516.125" y1="307.5" x2="523.125" y2="307.5" stroke="#000" stroke-width="2.2" stroke-linecap="butt"/>
<line x1="543.3000000000001" y1="287.7" x2="543.3000000000001" y2="306.4" stroke="#000" stroke-width="2" stroke-linecap="butt"/>
<line x1="539.8000000000001" y1="287.7" x2="546.8000000000001" y2="287.7" stroke="#000" stroke-width="2.2" stroke-linecap="butt"/>
<line x1="539.8000000000001" y1="306.4" x2="546.8000000000001" y2="306.4" stroke="#000" stroke-width="2.2" stroke-linecap="butt"/>
<line x1="566.975" y1="288" x2="566.975" y2="307.7" stroke="#000" stroke-width="2" stroke-linecap="butt"/>
<line x1="563.475" y1="288" x2="570.475" y2="288" stroke="#000" stroke-width="2.2" stroke-linecap="butt"/>
<line x1="563.475" y1="307.7" x2="570.475" y2="307.7" stroke="#000" stroke-width="2.2" stroke-linecap="butt"/>
<line x1="590.6500000000001" y1="289.6" x2="590.6500000000001" y2="309.4" stroke="#000" stroke-width="2" stroke-linecap="butt"/>
<line x1="587.1500000000001" y1="289.6" x2="594.1500000000001" y2="289.6" stroke="#000" stroke-width="2.2" stroke-linecap="butt"/>
<line x1="587.1500000000001" y1="309.4" x2="594.1500000000001" y2="309.4" stroke="#000" stroke-width="2.2" stroke-linecap="butt"/>
<line x1="614.325" y1="292.8" x2="614.325" y2="312" stroke="#000" stroke-width="2" stroke-linecap="butt"/>
<line x1="610.825" y1="292.8" x2="617.825" y2="292.8" stroke="#000" stroke-width="2.2" stroke-linecap="butt"/>
<line x1="610.825" y1="312" x2="617.825" y2="312" stroke="#000" stroke-width="2.2" stroke-linecap="butt"/>
<line x1="638.0" y1="298" x2="638.0" y2="316.4" stroke="#000" stroke-width="2" stroke-linecap="butt"/>
<line x1="634.5" y1="298" x2="641.5" y2="298" stroke="#000" stroke-width="2.2" stroke-linecap="butt"/>
<line x1="634.5" y1="316.4" x2="641.5" y2="316.4" stroke="#000" stroke-width="2.2" stroke-linecap="butt"/>
<polyline points="448.6,322.2 472.3,297.6 496.0,299.4 519.6,297.6 543.3,297.0 567.0,298.4 590.7,300.1 614.3,302.4 638.0,307.7" fill="none" stroke="#000" stroke-width="2" stroke-linejoin="round" stroke-linecap="round"/>
<path d="M448.6,318.2 L452.6,325.2 L444.6,325.2 Z" fill="#000"/>
<line x1="448.6" y1="282" x2="448.6" y2="302.2" stroke="#e3141c" stroke-width="2" stroke-linecap="butt"/>
<line x1="445.1" y1="282" x2="452.1" y2="282" stroke="#e3141c" stroke-width="2.2" stroke-linecap="butt"/>
<line x1="445.1" y1="302.2" x2="452.1" y2="302.2" stroke="#e3141c" stroke-width="2.2" stroke-linecap="butt"/>
<line x1="472.27500000000003" y1="271.9" x2="472.27500000000003" y2="294.7" stroke="#e3141c" stroke-width="2" stroke-linecap="butt"/>
<line x1="468.77500000000003" y1="271.9" x2="475.77500000000003" y2="271.9" stroke="#e3141c" stroke-width="2.2" stroke-linecap="butt"/>
<line x1="468.77500000000003" y1="294.7" x2="475.77500000000003" y2="294.7" stroke="#e3141c" stroke-width="2.2" stroke-linecap="butt"/>
<line x1="495.95000000000005" y1="272.8" x2="495.95000000000005" y2="295.9" stroke="#e3141c" stroke-width="2" stroke-linecap="butt"/>
<line x1="492.45000000000005" y1="272.8" x2="499.45000000000005" y2="272.8" stroke="#e3141c" stroke-width="2.2" stroke-linecap="butt"/>
<line x1="492.45000000000005" y1="295.9" x2="499.45000000000005" y2="295.9" stroke="#e3141c" stroke-width="2.2" stroke-linecap="butt"/>
<line x1="519.625" y1="278.9" x2="519.625" y2="301.7" stroke="#e3141c" stroke-width="2" stroke-linecap="butt"/>
<line x1="516.125" y1="278.9" x2="523.125" y2="278.9" stroke="#e3141c" stroke-width="2.2" stroke-linecap="butt"/>
<line x1="516.125" y1="301.7" x2="523.125" y2="301.7" stroke="#e3141c" stroke-width="2.2" stroke-linecap="butt"/>
<line x1="543.3000000000001" y1="292.9" x2="543.3000000000001" y2="314.8" stroke="#e3141c" stroke-width="2" stroke-linecap="butt"/>
<line x1="539.8000000000001" y1="292.9" x2="546.8000000000001" y2="292.9" stroke="#e3141c" stroke-width="2.2" stroke-linecap="butt"/>
<line x1="539.8000000000001" y1="314.8" x2="546.8000000000001" y2="314.8" stroke="#e3141c" stroke-width="2.2" stroke-linecap="butt"/>
<line x1="566.975" y1="313.8" x2="566.975" y2="335.7" stroke="#e3141c" stroke-width="2" stroke-linecap="butt"/>
<line x1="563.475" y1="313.8" x2="570.475" y2="313.8" stroke="#e3141c" stroke-width="2.2" stroke-linecap="butt"/>
<line x1="563.475" y1="335.7" x2="570.475" y2="335.7" stroke="#e3141c" stroke-width="2.2" stroke-linecap="butt"/>
<line x1="590.6500000000001" y1="322.9" x2="590.6500000000001" y2="349.2" stroke="#e3141c" stroke-width="2" stroke-linecap="butt"/>
<line x1="587.1500000000001" y1="322.9" x2="594.1500000000001" y2="322.9" stroke="#e3141c" stroke-width="2.2" stroke-linecap="butt"/>
<line x1="587.1500000000001" y1="349.2" x2="594.1500000000001" y2="349.2" stroke="#e3141c" stroke-width="2.2" stroke-linecap="butt"/>
<line x1="614.325" y1="329.9" x2="614.325" y2="356.7" stroke="#e3141c" stroke-width="2" stroke-linecap="butt"/>
<line x1="610.825" y1="329.9" x2="617.825" y2="329.9" stroke="#e3141c" stroke-width="2.2" stroke-linecap="butt"/>
<line x1="610.825" y1="356.7" x2="617.825" y2="356.7" stroke="#e3141c" stroke-width="2.2" stroke-linecap="butt"/>
<line x1="638.0" y1="334.8" x2="638.0" y2="359.7" stroke="#e3141c" stroke-width="2" stroke-linecap="butt"/>
<line x1="634.5" y1="334.8" x2="641.5" y2="334.8" stroke="#e3141c" stroke-width="2.2" stroke-linecap="butt"/>
<line x1="634.5" y1="359.7" x2="641.5" y2="359.7" stroke="#e3141c" stroke-width="2.2" stroke-linecap="butt"/>
<path d="M448.6,290.6 C450.3,290.0 468.8,282.9 472.3,282.4 C475.7,281.9 492.5,283.1 496.0,283.6 C499.4,284.1 516.2,287.4 519.6,288.9 C523.1,290.4 539.8,300.8 543.3,303.4 C546.8,306.0 563.5,322.4 567.0,324.7 C570.4,327.0 587.2,333.9 590.7,335.2 C594.1,336.5 610.9,341.0 614.3,341.8 C617.8,342.6 636.3,345.4 638.0,345.7" fill="none" stroke="#e3141c" stroke-width="2" stroke-linejoin="round" stroke-linecap="round"/>
<text transform="translate(614.50 293.20)" font-size="20" text-anchor="middle" font-weight="bold" fill="#000" stroke="#000" stroke-width="0.2">*</text>
<text transform="translate(637.60 299.10)" font-size="20" text-anchor="middle" font-weight="bold" fill="#000" stroke="#000" stroke-width="0.2">*</text>
<defs>
<filter id="cm" x="0" y="0" width="1" height="1" color-interpolation-filters="sRGB"><feGaussianBlur stdDeviation="0.8"/><feComponentTransfer><feFuncR type="table" tableValues="0.020 0.026 0.033 0.040 0.047 0.059 0.071 0.082 0.094 0.097 0.099 0.102 0.102 0.102 0.102 0.102 0.102 0.102 0.102 0.102 0.110 0.118 0.125 0.133 0.169 0.204 0.239 0.275 0.310 0.345 0.327 0.309 0.291 0.273 0.255 0.238 0.220 0.211 0.202 0.193 0.184 0.175 0.166 0.157 0.170 0.184 0.197 0.211 0.224 0.238 0.251 0.303 0.356 0.408 0.460 0.512 0.565 0.601 0.638 0.675 0.711 0.748 0.784 0.816 0.847 0.878 0.910 0.941 0.944 0.946 0.949 0.952 0.954 0.957 0.952 0.947 0.943 0.938 0.933 0.925 0.918 0.910 0.902 0.894 0.894 0.894 0.894 0.894 0.894 0.894 0.894 0.910 0.925 0.941 0.957 0.964 0.971 0.978 0.986 0.993 1.000"/><feFuncG type="table" tableValues="0.016 0.024 0.031 0.039 0.047 0.067 0.086 0.106 0.125 0.139 0.152 0.165 0.175 0.184 0.194 0.204 0.247 0.290 0.333 0.376 0.455 0.533 0.612 0.690 0.698 0.706 0.714 0.722 0.729 0.737 0.733 0.728 0.724 0.719 0.715 0.710 0.706 0.704 0.701 0.699 0.697 0.695 0.692 0.690 0.690 0.690 0.690 0.690 0.690 0.690 0.690 0.703 0.716 0.729 0.742 0.756 0.769 0.782 0.795 0.808 0.821 0.834 0.847 0.856 0.866 0.875 0.885 0.894 0.852 0.810 0.769 0.727 0.685 0.643 0.590 0.536 0.483 0.430 0.376 0.322 0.267 0.212 0.157 0.102 0.102 0.102 0.102 0.102 0.102 0.102 0.102 0.233 0.365 0.496 0.627 0.690 0.752 0.814 0.876 0.938 1.000"/><feFuncB type="table" tableValues="0.016 0.043 0.071 0.098 0.125 0.169 0.212 0.255 0.298 0.335 0.371 0.408 0.471 0.533 0.596 0.659 0.690 0.722 0.753 0.784 0.816 0.847 0.878 0.910 0.894 0.878 0.863 0.847 0.831 0.816 0.780 0.744 0.708 0.672 0.636 0.601 0.565 0.520 0.475 0.430 0.385 0.341 0.296 0.251 0.249 0.246 0.244 0.242 0.240 0.238 0.235 0.235 0.235 0.235 0.235 0.235 0.235 0.233 0.230 0.227 0.225 0.222 0.220 0.207 0.195 0.182 0.169 0.157 0.150 0.144 0.137 0.131 0.124 0.118 0.119 0.121 0.122 0.124 0.125 0.124 0.122 0.121 0.119 0.118 0.118 0.118 0.118 0.118 0.118 0.118 0.118 0.245 0.373 0.500 0.627 0.690 0.752 0.814 0.876 0.938 1.000"/></feComponentTransfer></filter>
<filter id="b1" x="-50%" y="-50%" width="200%" height="200%" color-interpolation-filters="sRGB"><feGaussianBlur stdDeviation="1"/></filter>
<filter id="b1_2" x="-50%" y="-50%" width="200%" height="200%" color-interpolation-filters="sRGB"><feGaussianBlur stdDeviation="1.2"/></filter>
<filter id="b1_5" x="-50%" y="-50%" width="200%" height="200%" color-interpolation-filters="sRGB"><feGaussianBlur stdDeviation="1.5"/></filter>
<filter id="b2" x="-50%" y="-50%" width="200%" height="200%" color-interpolation-filters="sRGB"><feGaussianBlur stdDeviation="2"/></filter>
<filter id="b2_5" x="-50%" y="-50%" width="200%" height="200%" color-interpolation-filters="sRGB"><feGaussianBlur stdDeviation="2.5"/></filter>
<filter id="b3" x="-50%" y="-50%" width="200%" height="200%" color-interpolation-filters="sRGB"><feGaussianBlur stdDeviation="3"/></filter>
<filter id="b3_5" x="-50%" y="-50%" width="200%" height="200%" color-interpolation-filters="sRGB"><feGaussianBlur stdDeviation="3.5"/></filter>
<filter id="b4" x="-50%" y="-50%" width="200%" height="200%" color-interpolation-filters="sRGB"><feGaussianBlur stdDeviation="4"/></filter>
<filter id="b4_5" x="-50%" y="-50%" width="200%" height="200%" color-interpolation-filters="sRGB"><feGaussianBlur stdDeviation="4.5"/></filter>
<filter id="b5" x="-50%" y="-50%" width="200%" height="200%" color-interpolation-filters="sRGB"><feGaussianBlur stdDeviation="5"/></filter>
<filter id="b6" x="-50%" y="-50%" width="200%" height="200%" color-interpolation-filters="sRGB"><feGaussianBlur stdDeviation="6"/></filter>
<filter id="b7" x="-50%" y="-50%" width="200%" height="200%" color-interpolation-filters="sRGB"><feGaussianBlur stdDeviation="7"/></filter>
<filter id="b8" x="-50%" y="-50%" width="200%" height="200%" color-interpolation-filters="sRGB"><feGaussianBlur stdDeviation="8"/></filter>
<filter id="b9" x="-50%" y="-50%" width="200%" height="200%" color-interpolation-filters="sRGB"><feGaussianBlur stdDeviation="9"/></filter>
<filter id="b10" x="-50%" y="-50%" width="200%" height="200%" color-interpolation-filters="sRGB"><feGaussianBlur stdDeviation="10"/></filter>
<filter id="b12" x="-50%" y="-50%" width="200%" height="200%" color-interpolation-filters="sRGB"><feGaussianBlur stdDeviation="12"/></filter>
<filter id="b14" x="-50%" y="-50%" width="200%" height="200%" color-interpolation-filters="sRGB"><feGaussianBlur stdDeviation="14"/></filter>
<linearGradient id="cbg" x1="0" y1="1" x2="0" y2="0"><stop offset="0" stop-color="#0a0a14"/><stop offset="0.095" stop-color="#1c2248"/><stop offset="0.137" stop-color="#1a2a80"/><stop offset="0.179" stop-color="#1a5cb0"/><stop offset="0.22" stop-color="#20b0e8"/><stop offset="0.293" stop-color="#5cb8c0"/><stop offset="0.361" stop-color="#30b080"/><stop offset="0.426" stop-color="#28b040"/><stop offset="0.49" stop-color="#30ac48"/><stop offset="0.555" stop-color="#80c040"/><stop offset="0.616" stop-color="#b8d038"/><stop offset="0.673" stop-color="#eee42a"/><stop offset="0.738" stop-color="#f4a020"/><stop offset="0.787" stop-color="#ee6020"/><stop offset="0.829" stop-color="#e41a1e"/><stop offset="0.905" stop-color="#e41a1e"/><stop offset="0.928" stop-color="#f0a0a0"/><stop offset="0.973" stop-color="#fff0f0"/><stop offset="1" stop-color="#ffffff"/></linearGradient>
<clipPath id="cTL"><rect x="66" y="465.5" width="147" height="144.0"/></clipPath>
<clipPath id="cTR"><rect x="216.2" y="465.5" width="143.60000000000002" height="144.0"/></clipPath>
<clipPath id="cBL"><rect x="65.8" y="612" width="145.7" height="141.70000000000005"/></clipPath>
<clipPath id="cBR"><rect x="215.6" y="611.8" width="144.4" height="141.70000000000005"/></clipPath>
</defs>
<g clip-path="url(#cTL)"><g filter="url(#cm)">
<rect x="64" y="463.5" width="151" height="148.0" fill="rgb(3,3,3)"/>
<ellipse cx="91.0" cy="593.5" rx="24" ry="18" fill="rgb(22,22,22)" filter="url(#b8)" transform="rotate(0 91.0 593.5)"/>
<ellipse cx="151.0" cy="575.5" rx="55" ry="40" fill="rgb(20,20,20)" filter="url(#b12)" transform="rotate(0 151.0 575.5)"/>
<ellipse cx="166.0" cy="467.5" rx="45" ry="20" fill="rgb(28,28,28)" filter="url(#b8)" transform="rotate(0 166.0 467.5)"/>
<path d="M204.0,460.5 C206.7,449.7 215.7,436.3 218.0,460.5 C220.3,484.7 220.0,581.3 218.0,605.5 C216.0,629.7 208.7,618.8 206.0,605.5 C203.3,592.2 202.3,549.7 202.0,525.5 C201.7,501.3 201.3,471.3 204.0,460.5Z" fill="rgb(31,31,31)" filter="url(#b6)" />
<ellipse cx="121.0" cy="565.5" rx="14" ry="12" fill="rgb(36,36,36)" filter="url(#b4)" transform="rotate(0 121.0 565.5)"/>
<path d="M103.0,537.5 C102.5,532.2 102.2,522.2 103.0,515.5 C103.8,508.8 105.8,502.2 108.0,497.5 C110.2,492.8 113.3,490.0 116.0,487.5 C118.7,485.0 121.3,482.7 124.0,482.5 C126.7,482.3 128.7,485.7 132.0,486.5 C135.3,487.3 139.7,486.8 144.0,487.5 C148.3,488.2 154.3,489.7 158.0,490.5 C161.7,491.3 163.0,493.3 166.0,492.5 C169.0,491.7 173.3,488.7 176.0,485.5 C178.7,482.3 180.0,476.8 182.0,473.5 C184.0,470.2 185.3,467.2 188.0,465.5 C190.7,463.8 194.8,463.2 198.0,463.5 C201.2,463.8 205.2,464.8 207.0,467.5 C208.8,470.2 208.8,474.8 209.0,479.5 C209.2,484.2 209.0,489.8 208.0,495.5 C207.0,501.2 205.0,508.2 203.0,513.5 C201.0,518.8 197.7,522.2 196.0,527.5 C194.3,532.8 193.5,539.5 193.0,545.5 C192.5,551.5 193.8,558.2 193.0,563.5 C192.2,568.8 190.5,573.5 188.0,577.5 C185.5,581.5 182.0,584.8 178.0,587.5 C174.0,590.2 168.7,592.8 164.0,593.5 C159.3,594.2 154.2,592.7 150.0,591.5 C145.8,590.3 142.5,588.8 139.0,586.5 C135.5,584.2 132.2,580.8 129.0,577.5 C125.8,574.2 122.8,570.0 120.0,566.5 C117.2,563.0 114.3,559.7 112.0,556.5 C109.7,553.3 107.5,550.7 106.0,547.5 C104.5,544.3 103.5,542.8 103.0,537.5Z" fill="rgb(26,26,26)" filter="url(#b6)" stroke="rgb(26,26,26)" stroke-width="22"/>
<path d="M103.0,537.5 C102.5,532.2 102.2,522.2 103.0,515.5 C103.8,508.8 105.8,502.2 108.0,497.5 C110.2,492.8 113.3,490.0 116.0,487.5 C118.7,485.0 121.3,482.7 124.0,482.5 C126.7,482.3 128.7,485.7 132.0,486.5 C135.3,487.3 139.7,486.8 144.0,487.5 C148.3,488.2 154.3,489.7 158.0,490.5 C161.7,491.3 163.0,493.3 166.0,492.5 C169.0,491.7 173.3,488.7 176.0,485.5 C178.7,482.3 180.0,476.8 182.0,473.5 C184.0,470.2 185.3,467.2 188.0,465.5 C190.7,463.8 194.8,463.2 198.0,463.5 C201.2,463.8 205.2,464.8 207.0,467.5 C208.8,470.2 208.8,474.8 209.0,479.5 C209.2,484.2 209.0,489.8 208.0,495.5 C207.0,501.2 205.0,508.2 203.0,513.5 C201.0,518.8 197.7,522.2 196.0,527.5 C194.3,532.8 193.5,539.5 193.0,545.5 C192.5,551.5 193.8,558.2 193.0,563.5 C192.2,568.8 190.5,573.5 188.0,577.5 C185.5,581.5 182.0,584.8 178.0,587.5 C174.0,590.2 168.7,592.8 164.0,593.5 C159.3,594.2 154.2,592.7 150.0,591.5 C145.8,590.3 142.5,588.8 139.0,586.5 C135.5,584.2 132.2,580.8 129.0,577.5 C125.8,574.2 122.8,570.0 120.0,566.5 C117.2,563.0 114.3,559.7 112.0,556.5 C109.7,553.3 107.5,550.7 106.0,547.5 C104.5,544.3 103.5,542.8 103.0,537.5Z" fill="rgb(38,38,38)" filter="url(#b3)" stroke="rgb(38,38,38)" stroke-width="8"/>
<path d="M103.0,537.5 C102.5,532.2 102.2,522.2 103.0,515.5 C103.8,508.8 105.8,502.2 108.0,497.5 C110.2,492.8 113.3,490.0 116.0,487.5 C118.7,485.0 121.3,482.7 124.0,482.5 C126.7,482.3 128.7,485.7 132.0,486.5 C135.3,487.3 139.7,486.8 144.0,487.5 C148.3,488.2 154.3,489.7 158.0,490.5 C161.7,491.3 163.0,493.3 166.0,492.5 C169.0,491.7 173.3,488.7 176.0,485.5 C178.7,482.3 180.0,476.8 182.0,473.5 C184.0,470.2 185.3,467.2 188.0,465.5 C190.7,463.8 194.8,463.2 198.0,463.5 C201.2,463.8 205.2,464.8 207.0,467.5 C208.8,470.2 208.8,474.8 209.0,479.5 C209.2,484.2 209.0,489.8 208.0,495.5 C207.0,501.2 205.0,508.2 203.0,513.5 C201.0,518.8 197.7,522.2 196.0,527.5 C194.3,532.8 193.5,539.5 193.0,545.5 C192.5,551.5 193.8,558.2 193.0,563.5 C192.2,568.8 190.5,573.5 188.0,577.5 C185.5,581.5 182.0,584.8 178.0,587.5 C174.0,590.2 168.7,592.8 164.0,593.5 C159.3,594.2 154.2,592.7 150.0,591.5 C145.8,590.3 142.5,588.8 139.0,586.5 C135.5,584.2 132.2,580.8 129.0,577.5 C125.8,574.2 122.8,570.0 120.0,566.5 C117.2,563.0 114.3,559.7 112.0,556.5 C109.7,553.3 107.5,550.7 106.0,547.5 C104.5,544.3 103.5,542.8 103.0,537.5Z" fill="rgb(69,69,69)" filter="url(#b2_5)" />
<circle cx="198.0" cy="485.5" r="11" fill="rgb(87,87,87)" filter="url(#b5)"/>
<path d="M116.0,527.5 C116.0,522.8 116.3,516.8 118.0,513.5 C119.7,510.2 122.3,508.7 126.0,507.5 C129.7,506.3 135.0,506.5 140.0,506.5 C145.0,506.5 150.7,507.0 156.0,507.5 C161.3,508.0 168.0,509.2 172.0,509.5 C176.0,509.8 178.0,508.2 180.0,509.5 C182.0,510.8 183.3,514.2 184.0,517.5 C184.7,520.8 183.8,524.8 184.0,529.5 C184.2,534.2 184.8,539.8 185.0,545.5 C185.2,551.2 186.0,558.5 185.0,563.5 C184.0,568.5 182.2,572.3 179.0,575.5 C175.8,578.7 170.7,581.5 166.0,582.5 C161.3,583.5 155.3,582.7 151.0,581.5 C146.7,580.3 143.2,578.2 140.0,575.5 C136.8,572.8 134.7,569.2 132.0,565.5 C129.3,561.8 126.3,557.5 124.0,553.5 C121.7,549.5 119.3,545.8 118.0,541.5 C116.7,537.2 116.0,532.2 116.0,527.5Z" fill="rgb(110,110,110)" filter="url(#b5)" />
<circle cx="126.5" cy="522.5" r="6" fill="rgb(122,122,122)" filter="url(#b4)"/>
<path d="M160.0,515.5 C165.2,515.5 171.5,524.8 176.0,531.5 C180.5,538.2 185.8,548.2 187.0,555.5 C188.2,562.8 187.3,570.7 183.0,575.5 C178.7,580.3 168.3,584.5 161.0,584.5 C153.7,584.5 143.5,580.3 139.0,575.5 C134.5,570.7 133.0,562.8 134.0,555.5 C135.0,548.2 140.7,538.2 145.0,531.5 C149.3,524.8 154.8,515.5 160.0,515.5Z" fill="rgb(148,148,148)" filter="url(#b5)" />
<circle cx="161.0" cy="558.8" r="19" fill="rgb(173,173,173)" filter="url(#b4)"/>
<circle cx="161.0" cy="558.8" r="12.5" fill="rgb(196,196,196)" filter="url(#b2_5)"/>
<circle cx="161.0" cy="558.8" r="10" fill="rgb(222,222,222)" filter="url(#b2)"/>
<circle cx="161.0" cy="558.8" r="4.6" fill="rgb(255,255,255)" filter="url(#b1_2)"/>
</g></g>
<g clip-path="url(#cTR)"><g filter="url(#cm)">
<rect x="214.2" y="463.5" width="147.60000000000002" height="148.0" fill="rgb(3,3,3)"/>
<path d="M226.0,455.5 C252.7,450.5 342.7,428.8 366.0,455.5 C389.3,482.2 392.7,588.8 366.0,615.5 C339.3,642.2 232.7,637.2 206.0,615.5 C179.3,593.8 202.7,512.2 206.0,485.5 C209.3,458.8 199.3,460.5 226.0,455.5Z" fill="rgb(18,18,18)" filter="url(#b8)" />
<ellipse cx="346.0" cy="583.5" rx="18" ry="26" fill="rgb(26,26,26)" filter="url(#b10)" transform="rotate(0 346.0 583.5)"/>
<path d="M246.0,460.5 C256.7,458.7 290.2,460.0 306.0,460.5 C321.8,461.0 333.0,460.7 341.0,463.5 C349.0,466.3 351.2,470.5 354.0,477.5 C356.8,484.5 357.7,497.2 358.0,505.5 C358.3,513.8 358.3,521.8 356.0,527.5 C353.7,533.2 348.7,535.8 344.0,539.5 C339.3,543.2 332.7,546.2 328.0,549.5 C323.3,552.8 317.0,555.5 316.0,559.5 C315.0,563.5 319.3,568.5 322.0,573.5 C324.7,578.5 329.3,584.2 332.0,589.5 C334.7,594.8 337.7,601.2 338.0,605.5 C338.3,609.8 355.2,613.8 334.0,615.5 C312.8,617.2 231.5,633.8 211.0,615.5 C190.5,597.2 208.5,525.0 211.0,505.5 C213.5,486.0 222.2,500.5 226.0,498.5 C229.8,496.5 232.2,495.8 234.0,493.5 C235.8,491.2 235.7,488.2 237.0,484.5 C238.3,480.8 240.5,475.5 242.0,471.5 C243.5,467.5 235.3,462.3 246.0,460.5Z" fill="rgb(40,40,40)" filter="url(#b5)" stroke="rgb(40,40,40)" stroke-width="14"/>
<path d="M208.0,457.5 C213.8,450.7 238.0,454.2 243.0,457.5 C248.0,460.8 239.8,472.5 238.0,477.5 C236.2,482.5 234.7,484.7 232.0,487.5 C229.3,490.3 226.0,492.7 222.0,494.5 C218.0,496.3 210.3,504.7 208.0,498.5 C205.7,492.3 202.2,464.3 208.0,457.5Z" fill="rgb(18,18,18)" filter="url(#b4)" />
<path d="M246.0,460.5 C256.7,458.7 290.2,460.0 306.0,460.5 C321.8,461.0 333.0,460.7 341.0,463.5 C349.0,466.3 351.2,470.5 354.0,477.5 C356.8,484.5 357.7,497.2 358.0,505.5 C358.3,513.8 358.3,521.8 356.0,527.5 C353.7,533.2 348.7,535.8 344.0,539.5 C339.3,543.2 332.7,546.2 328.0,549.5 C323.3,552.8 317.0,555.5 316.0,559.5 C315.0,563.5 319.3,568.5 322.0,573.5 C324.7,578.5 329.3,584.2 332.0,589.5 C334.7,594.8 337.7,601.2 338.0,605.5 C338.3,609.8 355.2,613.8 334.0,615.5 C312.8,617.2 231.5,633.8 211.0,615.5 C190.5,597.2 208.5,525.0 211.0,505.5 C213.5,486.0 222.2,500.5 226.0,498.5 C229.8,496.5 232.2,495.8 234.0,493.5 C235.8,491.2 235.7,488.2 237.0,484.5 C238.3,480.8 240.5,475.5 242.0,471.5 C243.5,467.5 235.3,462.3 246.0,460.5Z" fill="rgb(74,74,74)" filter="url(#b3)" />
<path d="M348.0,460.5 C350.3,453.0 363.0,448.0 366.0,460.5 C369.0,473.0 367.7,523.7 366.0,535.5 C364.3,547.3 358.3,536.5 356.0,531.5 C353.7,526.5 353.3,517.3 352.0,505.5 C350.7,493.7 345.7,468.0 348.0,460.5Z" fill="rgb(51,51,51)" filter="url(#b4)" />
<path d="M211.0,592.5 C215.2,589.0 228.5,593.7 236.0,594.5 C243.5,595.3 249.3,597.5 256.0,597.5 C262.7,597.5 269.3,594.3 276.0,594.5 C282.7,594.7 289.3,597.3 296.0,598.5 C302.7,599.7 311.0,598.7 316.0,601.5 C321.0,604.3 343.5,613.2 326.0,615.5 C308.5,617.8 230.2,619.3 211.0,615.5 C191.8,611.7 206.8,596.0 211.0,592.5Z" fill="rgb(64,64,64)" filter="url(#b3)" />
<ellipse cx="216.0" cy="611.5" rx="10" ry="14" fill="rgb(43,43,43)" filter="url(#b4)" transform="rotate(0 216.0 611.5)"/>
<path d="M296.0,473.5 C302.3,468.5 330.0,471.0 338.0,475.5 C346.0,480.0 344.3,492.5 344.0,500.5 C343.7,508.5 340.0,517.0 336.0,523.5 C332.0,530.0 325.3,537.5 320.0,539.5 C314.7,541.5 307.3,541.2 304.0,535.5 C300.7,529.8 301.3,515.8 300.0,505.5 C298.7,495.2 289.7,478.5 296.0,473.5Z" fill="rgb(89,89,89)" filter="url(#b8)" />
<path d="M254.0,468.5 C260.2,465.2 274.8,466.7 286.0,467.5 C297.2,468.3 313.8,469.2 321.0,473.5 C328.2,477.8 329.5,487.3 329.0,493.5 C328.5,499.7 322.5,506.0 318.0,510.5 C313.5,515.0 305.7,516.7 302.0,520.5 C298.3,524.3 296.3,529.0 296.0,533.5 C295.7,538.0 298.7,543.0 300.0,547.5 C301.3,552.0 302.3,556.2 304.0,560.5 C305.7,564.8 307.2,569.7 310.0,573.5 C312.8,577.3 318.7,579.8 321.0,583.5 C323.3,587.2 325.2,592.8 324.0,595.5 C322.8,598.2 318.7,599.3 314.0,599.5 C309.3,599.7 302.3,597.5 296.0,596.5 C289.7,595.5 284.3,593.7 276.0,593.5 C267.7,593.3 254.7,595.8 246.0,595.5 C237.3,595.2 228.7,594.8 224.0,591.5 C219.3,588.2 219.0,583.2 218.0,575.5 C217.0,567.8 217.7,553.8 218.0,545.5 C218.3,537.2 218.0,530.5 220.0,525.5 C222.0,520.5 226.3,518.8 230.0,515.5 C233.7,512.2 238.8,510.2 242.0,505.5 C245.2,500.8 247.0,493.7 249.0,487.5 C251.0,481.3 247.8,471.8 254.0,468.5Z" fill="rgb(110,110,110)" filter="url(#b5)" />
<circle cx="308.0" cy="590.5" r="14" fill="rgb(117,117,117)" filter="url(#b5)"/>
<ellipse cx="274.0" cy="495.5" rx="19" ry="22" fill="rgb(145,145,145)" filter="url(#b5)" transform="rotate(0 274.0 495.5)"/>
<path d="M266.0,479.5 C271.0,475.8 307.7,480.8 310.0,485.5 C312.3,490.2 287.3,508.5 280.0,507.5 C272.7,506.5 261.0,483.2 266.0,479.5Z" fill="rgb(145,145,145)" filter="url(#b4)" />
<path d="M237.0,519.5 C241.7,519.8 248.2,531.7 256.0,535.5 C263.8,539.3 278.3,537.8 284.0,542.5 C289.7,547.2 291.3,556.8 290.0,563.5 C288.7,570.2 284.2,579.0 276.0,582.5 C267.8,586.0 250.5,585.7 241.0,584.5 C231.5,583.3 222.8,581.3 219.0,575.5 C215.2,569.7 216.5,556.5 218.0,549.5 C219.5,542.5 224.8,538.5 228.0,533.5 C231.2,528.5 232.3,519.2 237.0,519.5Z" fill="rgb(149,149,149)" filter="url(#b5)" />
<circle cx="272.3" cy="487.2" r="10" fill="rgb(173,173,173)" filter="url(#b3)"/>
<ellipse cx="252.0" cy="559.5" rx="34" ry="18" fill="rgb(175,175,175)" filter="url(#b4)" transform="rotate(0 252.0 559.5)"/>
<ellipse cx="254.0" cy="559.5" rx="20" ry="7" fill="rgb(187,187,187)" filter="url(#b3)" transform="rotate(0 254.0 559.5)"/>
<circle cx="236.4" cy="559.7" r="12.5" fill="rgb(196,196,196)" filter="url(#b2_5)"/>
<circle cx="236.4" cy="559.7" r="9.5" fill="rgb(222,222,222)" filter="url(#b2)"/>
<circle cx="271.7" cy="559.7" r="8" fill="rgb(194,194,194)" filter="url(#b2_5)"/>
<circle cx="271.7" cy="559.7" r="4.5" fill="rgb(214,214,214)" filter="url(#b2)"/>
<circle cx="272.3" cy="487.2" r="4.5" fill="rgb(204,204,204)" filter="url(#b2)"/>
<circle cx="236.4" cy="559.7" r="3.8" fill="rgb(255,255,255)" filter="url(#b1_2)"/>
<circle cx="307.4" cy="594.8" r="4" fill="rgb(143,143,143)" filter="url(#b2)"/>
</g></g>
<g clip-path="url(#cBL)"><g filter="url(#cm)">
<rect x="63.8" y="610" width="149.7" height="145.70000000000005" fill="rgb(3,3,3)"/>
<ellipse cx="85.0" cy="668.0" rx="17" ry="19" fill="rgb(15,15,15)" filter="url(#b9)" transform="rotate(0 85.0 668.0)"/>
<ellipse cx="128.0" cy="707.0" rx="52" ry="44" fill="rgb(24,24,24)" filter="url(#b12)" transform="rotate(0 128.0 707.0)"/>
<ellipse cx="181.0" cy="678.0" rx="40" ry="32" fill="rgb(24,24,24)" filter="url(#b12)" transform="rotate(-35 181.0 678.0)"/>
<ellipse cx="166.0" cy="732.0" rx="50" ry="22" fill="rgb(19,19,19)" filter="url(#b12)" transform="rotate(0 166.0 732.0)"/>
<ellipse cx="127.0" cy="704.0" rx="41" ry="33" fill="rgb(34,34,34)" filter="url(#b5)" transform="rotate(0 127.0 704.0)"/>
<path d="M76.0,617.0 C67.7,612.8 103.3,617.0 126.0,617.0 C148.7,617.0 197.7,612.8 212.0,617.0 C226.3,621.2 218.0,637.8 212.0,642.0 C206.0,646.2 198.7,646.2 176.0,642.0 C153.3,637.8 84.3,621.2 76.0,617.0Z" fill="rgb(10,10,10)" filter="url(#b8)" />
<ellipse cx="174.0" cy="684.0" rx="13" ry="22" fill="rgb(38,38,38)" filter="url(#b5)" transform="rotate(-45 174.0 684.0)"/>
<ellipse cx="166.0" cy="706.0" rx="10" ry="12" fill="rgb(36,36,36)" filter="url(#b4)" transform="rotate(0 166.0 706.0)"/>
<circle cx="196.0" cy="667.4" r="17" fill="rgb(38,38,38)" filter="url(#b3_5)"/>
<circle cx="196.0" cy="667.4" r="8" fill="rgb(57,57,57)" filter="url(#b4)"/>
<ellipse cx="127.0" cy="704.0" rx="35.5" ry="27.5" fill="rgb(38,38,38)" filter="url(#b2_5)" transform="rotate(0 127.0 704.0)"/>
<path d="M126.0,679.5 C132.7,679.5 142.7,680.6 148.0,683.0 C153.3,685.4 155.8,690.5 158.0,694.0 C160.2,697.5 161.2,700.7 161.0,704.0 C160.8,707.3 159.5,710.7 157.0,714.0 C154.5,717.3 151.2,721.7 146.0,724.0 C140.8,726.3 132.7,728.0 126.0,728.0 C119.3,728.0 110.8,726.3 106.0,724.0 C101.2,721.7 98.8,717.5 97.0,714.0 C95.2,710.5 94.7,706.7 95.0,703.0 C95.3,699.3 96.8,695.3 99.0,692.0 C101.2,688.7 103.5,685.1 108.0,683.0 C112.5,680.9 119.3,679.5 126.0,679.5Z" fill="rgb(69,69,69)" filter="url(#b2)" />
<ellipse cx="124.0" cy="703.5" rx="24" ry="19" fill="rgb(87,87,87)" filter="url(#b4)" transform="rotate(0 124.0 703.5)"/>
<ellipse cx="123.0" cy="703.5" rx="16" ry="13" fill="rgb(107,107,107)" filter="url(#b4)" transform="rotate(0 123.0 703.5)"/>
<circle cx="123.0" cy="703.6" r="3.5" fill="rgb(117,117,117)" filter="url(#b2)"/>
</g></g>
<g clip-path="url(#cBR)"><g filter="url(#cm)">
<rect x="213.6" y="609.8" width="148.4" height="145.70000000000005" fill="rgb(3,3,3)"/>
<ellipse cx="280.0" cy="642.0" rx="40" ry="36" fill="rgb(22,22,22)" filter="url(#b12)" transform="rotate(0 280.0 642.0)"/>
<ellipse cx="321.0" cy="657.0" rx="40" ry="30" fill="rgb(20,20,20)" filter="url(#b12)" transform="rotate(0 321.0 657.0)"/>
<ellipse cx="251.0" cy="704.0" rx="38" ry="30" fill="rgb(22,22,22)" filter="url(#b12)" transform="rotate(0 251.0 704.0)"/>
<ellipse cx="296.0" cy="708.0" rx="32" ry="28" fill="rgb(22,22,22)" filter="url(#b12)" transform="rotate(0 296.0 708.0)"/>
<ellipse cx="338.0" cy="690.0" rx="32" ry="48" fill="rgb(22,22,22)" filter="url(#b12)" transform="rotate(0 338.0 690.0)"/>
<path d="M216.0,708.0 C240.0,703.8 336.0,703.8 360.0,708.0 C384.0,712.2 367.3,728.7 360.0,733.0 C352.7,737.3 330.0,734.2 316.0,734.0 C302.0,733.8 287.7,732.0 276.0,732.0 C264.3,732.0 256.0,733.8 246.0,734.0 C236.0,734.2 221.0,737.3 216.0,733.0 C211.0,728.7 192.0,712.2 216.0,708.0Z" fill="rgb(24,24,24)" filter="url(#b3)" />
<path d="M331.0,604.0 C335.5,598.7 361.8,598.0 368.0,604.0 C374.2,610.0 372.5,634.7 368.0,640.0 C363.5,645.3 347.2,642.0 341.0,636.0 C334.8,630.0 326.5,609.3 331.0,604.0Z" fill="rgb(3,3,3)" filter="url(#b6)" />
<ellipse cx="278.0" cy="639.0" rx="23" ry="23" fill="rgb(43,43,43)" filter="url(#b2_5)" transform="rotate(0 278.0 639.0)"/>
<path d="M284.0,622.0 C286.8,619.2 307.7,626.7 309.0,631.0 C310.3,635.3 296.2,649.5 292.0,648.0 C287.8,646.5 281.2,624.8 284.0,622.0Z" fill="rgb(42,42,42)" filter="url(#b3)" />
<path d="M265.0,654.0 C267.0,649.0 278.0,649.0 280.0,654.0 C282.0,659.0 279.0,679.0 277.0,684.0 C275.0,689.0 270.0,689.0 268.0,684.0 C266.0,679.0 263.0,659.0 265.0,654.0Z" fill="rgb(41,41,41)" filter="url(#b3)" />
<path d="M226.0,704.0 C224.8,698.7 229.0,688.0 234.0,684.0 C239.0,680.0 249.7,679.5 256.0,680.0 C262.3,680.5 266.7,686.7 272.0,687.0 C277.3,687.3 282.0,681.8 288.0,682.0 C294.0,682.2 303.3,688.0 308.0,688.0 C312.7,688.0 313.3,686.0 316.0,682.0 C318.7,678.0 320.3,669.0 324.0,664.0 C327.7,659.0 333.5,653.7 338.0,652.0 C342.5,650.3 347.5,650.7 351.0,654.0 C354.5,657.3 357.7,663.2 359.0,672.0 C360.3,680.8 361.2,698.3 359.0,707.0 C356.8,715.7 351.2,720.8 346.0,724.0 C340.8,727.2 334.7,726.7 328.0,726.0 C321.3,725.3 313.0,721.0 306.0,720.0 C299.0,719.0 291.7,721.3 286.0,720.0 C280.3,718.7 276.2,712.7 272.0,712.0 C267.8,711.3 266.2,715.3 261.0,716.0 C255.8,716.7 246.8,718.0 241.0,716.0 C235.2,714.0 227.2,709.3 226.0,704.0Z" fill="rgb(43,43,43)" filter="url(#b3)" />
<path d="M332.0,660.0 C335.8,654.2 339.5,651.3 343.0,651.0 C346.5,650.7 350.5,652.5 353.0,658.0 C355.5,663.5 357.3,675.0 358.0,684.0 C358.7,693.0 359.3,705.7 357.0,712.0 C354.7,718.3 349.8,720.7 344.0,722.0 C338.2,723.3 328.3,721.7 322.0,720.0 C315.7,718.3 307.8,715.0 306.0,712.0 C304.2,709.0 308.7,706.3 311.0,702.0 C313.3,697.7 316.5,693.0 320.0,686.0 C323.5,679.0 328.2,665.8 332.0,660.0Z" fill="rgb(68,68,68)" filter="url(#b4_5)" />
<circle cx="342.0" cy="701.0" r="8" fill="rgb(79,79,79)" filter="url(#b4)"/>
<circle cx="273.0" cy="633.0" r="7" fill="rgb(59,59,59)" filter="url(#b3)"/>
<circle cx="237.0" cy="703.0" r="7" fill="rgb(51,51,51)" filter="url(#b3)"/>
<circle cx="306.4" cy="666.7" r="7" fill="rgb(0,0,0)" filter="url(#b5)"/>
</g></g>
<rect x="66.5" y="465.5" width="1.6" height="144" fill="#5a5a5a"/>
<rect x="211.8" y="465.5" width="1.8" height="144" fill="#9a9a9a"/>
<rect x="210.8" y="612" width="2.2" height="142" fill="#8a8a8a"/>
<rect x="358.6" y="612" width="1.6" height="142" fill="#777"/>
<rect x="29.4" y="478" width="14.4" height="263" fill="url(#cbg)"/>
<text transform="translate(36.80 476.40) scale(1 1.05)" font-size="12" text-anchor="middle" font-weight="bold" fill="#000" stroke="#000" stroke-width="0.3">9948</text>
<text transform="translate(37.40 752.40) scale(1 1.05)" font-size="12" text-anchor="middle" font-weight="bold" fill="#000" stroke="#000" stroke-width="0.3">0</text>
<text transform="translate(19.90 618.20) rotate(-90) scale(1 1.1)" font-size="13.6" text-anchor="middle" font-weight="bold" fill="#000" stroke="#000" stroke-width="0.3">Amplitude ( <tspan font-weight="normal" stroke-width="0">µ</tspan>V)</text>
<text transform="translate(146.30 461.90) scale(1 1.1)" font-size="13.6" text-anchor="middle" font-weight="bold" fill="#000" stroke="#000" stroke-width="0.3">DMSO</text>
<text transform="translate(288.40 461.90) scale(1 1.1)" font-size="13.6" text-anchor="middle" font-weight="bold" fill="#000" stroke="#000" stroke-width="0.3">Toma</text>
<text transform="translate(61.50 538.30) rotate(-90) scale(1 1.1)" font-size="13.6" text-anchor="middle" font-weight="bold" fill="#000" stroke="#000" stroke-width="0.3">Dox -</text>
<text transform="translate(61.50 682.60) rotate(-90) scale(1 1.1)" font-size="13.6" text-anchor="middle" font-weight="bold" fill="#000" stroke="#000" stroke-width="0.3">Dox +</text>
<line x1="438.3" y1="490.4" x2="438.3" y2="686.8" stroke="#000" stroke-width="2" stroke-linecap="butt"/>
<line x1="437.3" y1="685.8" x2="685" y2="685.8" stroke="#000" stroke-width="2" stroke-linecap="butt"/>
<line x1="434.8" y1="491" x2="438.3" y2="491" stroke="#000" stroke-width="2" stroke-linecap="butt"/>
<text transform="translate(432.00 497.55) scale(1 0.92)" font-size="12" text-anchor="end" font-weight="bold" fill="#000" stroke="#000" stroke-width="0.3">120</text>
<line x1="434.8" y1="549.7" x2="438.3" y2="549.7" stroke="#000" stroke-width="2" stroke-linecap="butt"/>
<text transform="translate(432.00 554.55) scale(1 0.92)" font-size="12" text-anchor="end" font-weight="bold" fill="#000" stroke="#000" stroke-width="0.3">100</text>
<line x1="434.8" y1="604.1" x2="438.3" y2="604.1" stroke="#000" stroke-width="2" stroke-linecap="butt"/>
<text transform="translate(432.00 608.95) scale(1 0.92)" font-size="12" text-anchor="end" font-weight="bold" fill="#000" stroke="#000" stroke-width="0.3">80</text>
<line x1="434.8" y1="659.2" x2="438.3" y2="659.2" stroke="#000" stroke-width="2" stroke-linecap="butt"/>
<text transform="translate(432.00 663.95) scale(1 0.92)" font-size="12" text-anchor="end" font-weight="bold" fill="#000" stroke="#000" stroke-width="0.3">60</text>
<line x1="459.0" y1="685.8" x2="459.0" y2="690.3" stroke="#000" stroke-width="2" stroke-linecap="butt"/>
<text transform="translate(465.00 697.20) rotate(-45)" font-size="13" text-anchor="end" font-weight="bold" fill="#000" stroke="#000" stroke-width="0.3">0</text>
<line x1="499.9" y1="685.8" x2="499.9" y2="690.3" stroke="#000" stroke-width="2" stroke-linecap="butt"/>
<text transform="translate(505.90 697.20) rotate(-45)" font-size="13" text-anchor="end" font-weight="bold" fill="#000" stroke="#000" stroke-width="0.3">0.01</text>
<line x1="540.8" y1="685.8" x2="540.8" y2="690.3" stroke="#000" stroke-width="2" stroke-linecap="butt"/>
<text transform="translate(546.80 697.20) rotate(-45)" font-size="13" text-anchor="end" font-weight="bold" fill="#000" stroke="#000" stroke-width="0.3">0.1</text>
<line x1="581.7" y1="685.8" x2="581.7" y2="690.3" stroke="#000" stroke-width="2" stroke-linecap="butt"/>
<text transform="translate(587.70 697.20) rotate(-45)" font-size="13" text-anchor="end" font-weight="bold" fill="#000" stroke="#000" stroke-width="0.3">1</text>
<line x1="622.6" y1="685.8" x2="622.6" y2="690.3" stroke="#000" stroke-width="2" stroke-linecap="butt"/>
<text transform="translate(628.60 697.20) rotate(-45)" font-size="13" text-anchor="end" font-weight="bold" fill="#000" stroke="#000" stroke-width="0.3">2</text>
<line x1="663.5" y1="685.8" x2="663.5" y2="690.3" stroke="#000" stroke-width="2" stroke-linecap="butt"/>
<text transform="translate(669.50 697.20) rotate(-45)" font-size="13" text-anchor="end" font-weight="bold" fill="#000" stroke="#000" stroke-width="0.3">5</text>
<text transform="translate(561.50 730.10) scale(1 1.1)" font-size="13.6" text-anchor="middle" font-weight="bold" fill="#000" stroke="#000" stroke-width="0.3">Doxorubicin (<tspan font-weight="normal" stroke-width="0">µ</tspan>M)</text>
<text transform="translate(407.30 587.50) rotate(-90) scale(1 1.1)" font-size="14" text-anchor="middle" font-weight="bold" fill="#000" stroke="#000" stroke-width="0.3">Cell viability (% of control)</text>
<line x1="459.0" y1="543" x2="459.0" y2="558" stroke="#000" stroke-width="2" stroke-linecap="butt"/>
<line x1="455.5" y1="543" x2="462.5" y2="543" stroke="#000" stroke-width="2.5" stroke-linecap="butt"/>
<line x1="455.5" y1="558" x2="462.5" y2="558" stroke="#000" stroke-width="2.5" stroke-linecap="butt"/>
<line x1="499.9" y1="531" x2="499.9" y2="556" stroke="#000" stroke-width="2" stroke-linecap="butt"/>
<line x1="496.4" y1="531" x2="503.4" y2="531" stroke="#000" stroke-width="2.5" stroke-linecap="butt"/>
<line x1="496.4" y1="556" x2="503.4" y2="556" stroke="#000" stroke-width="2.5" stroke-linecap="butt"/>
<line x1="540.8" y1="549" x2="540.8" y2="590.4" stroke="#000" stroke-width="2" stroke-linecap="butt"/>
<line x1="537.3" y1="549" x2="544.3" y2="549" stroke="#000" stroke-width="2.5" stroke-linecap="butt"/>
<line x1="537.3" y1="590.4" x2="544.3" y2="590.4" stroke="#000" stroke-width="2.5" stroke-linecap="butt"/>
<line x1="581.7" y1="583.6" x2="581.7" y2="624" stroke="#000" stroke-width="2" stroke-linecap="butt"/>
<line x1="578.2" y1="583.6" x2="585.2" y2="583.6" stroke="#000" stroke-width="2.5" stroke-linecap="butt"/>
<line x1="578.2" y1="624" x2="585.2" y2="624" stroke="#000" stroke-width="2.5" stroke-linecap="butt"/>
<line x1="622.6" y1="621" x2="622.6" y2="635" stroke="#000" stroke-width="2" stroke-linecap="butt"/>
<line x1="619.1" y1="621" x2="626.1" y2="621" stroke="#000" stroke-width="2.5" stroke-linecap="butt"/>
<line x1="619.1" y1="635" x2="626.1" y2="635" stroke="#000" stroke-width="2.5" stroke-linecap="butt"/>
<line x1="663.5" y1="623" x2="663.5" y2="675.6" stroke="#000" stroke-width="2" stroke-linecap="butt"/>
<line x1="660.0" y1="623" x2="667.0" y2="623" stroke="#000" stroke-width="2.5" stroke-linecap="butt"/>
<line x1="660.0" y1="675.6" x2="667.0" y2="675.6" stroke="#000" stroke-width="2.5" stroke-linecap="butt"/>
<polyline points="459.0,549.7 499.9,544.4 540.8,569.4 581.7,607.6 622.6,628.4 663.5,649.4" fill="none" stroke="#000" stroke-width="3" stroke-linejoin="round" stroke-linecap="round"/>
<circle cx="459.0" cy="549.7" r="3.5" fill="#fff" stroke="#000" stroke-width="2"/>
<circle cx="499.9" cy="544.4" r="3.5" fill="#fff" stroke="#000" stroke-width="2"/>
<circle cx="540.8" cy="569.4" r="3.5" fill="#fff" stroke="#000" stroke-width="2"/>
<circle cx="581.7" cy="607.6" r="3.5" fill="#fff" stroke="#000" stroke-width="2"/>
<circle cx="622.6" cy="628.4" r="3.5" fill="#fff" stroke="#000" stroke-width="2"/>
<circle cx="663.5" cy="649.4" r="3.5" fill="#fff" stroke="#000" stroke-width="2"/>
<line x1="459.0" y1="546" x2="459.0" y2="554.5" stroke="#e3141c" stroke-width="2" stroke-linecap="butt"/>
<line x1="455.5" y1="546" x2="462.5" y2="546" stroke="#e3141c" stroke-width="2.5" stroke-linecap="butt"/>
<line x1="455.5" y1="554.5" x2="462.5" y2="554.5" stroke="#e3141c" stroke-width="2.5" stroke-linecap="butt"/>
<line x1="499.9" y1="556" x2="499.9" y2="591" stroke="#e3141c" stroke-width="2" stroke-linecap="butt"/>
<line x1="496.4" y1="556" x2="503.4" y2="556" stroke="#e3141c" stroke-width="2.5" stroke-linecap="butt"/>
<line x1="496.4" y1="591" x2="503.4" y2="591" stroke="#e3141c" stroke-width="2.5" stroke-linecap="butt"/>
<line x1="540.8" y1="594" x2="540.8" y2="607" stroke="#e3141c" stroke-width="2" stroke-linecap="butt"/>
<line x1="537.3" y1="594" x2="544.3" y2="594" stroke="#e3141c" stroke-width="2.5" stroke-linecap="butt"/>
<line x1="537.3" y1="607" x2="544.3" y2="607" stroke="#e3141c" stroke-width="2.5" stroke-linecap="butt"/>
<line x1="581.7" y1="624.4" x2="581.7" y2="633" stroke="#e3141c" stroke-width="2" stroke-linecap="butt"/>
<line x1="578.2" y1="624.4" x2="585.2" y2="624.4" stroke="#e3141c" stroke-width="2.5" stroke-linecap="butt"/>
<line x1="578.2" y1="633" x2="585.2" y2="633" stroke="#e3141c" stroke-width="2.5" stroke-linecap="butt"/>
<line x1="622.6" y1="641.6" x2="622.6" y2="664.4" stroke="#e3141c" stroke-width="2" stroke-linecap="butt"/>
<line x1="619.1" y1="641.6" x2="626.1" y2="641.6" stroke="#e3141c" stroke-width="2.5" stroke-linecap="butt"/>
<line x1="619.1" y1="664.4" x2="626.1" y2="664.4" stroke="#e3141c" stroke-width="2.5" stroke-linecap="butt"/>
<line x1="663.5" y1="643" x2="663.5" y2="667.6" stroke="#e3141c" stroke-width="2" stroke-linecap="butt"/>
<line x1="660.0" y1="643" x2="667.0" y2="643" stroke="#e3141c" stroke-width="2.5" stroke-linecap="butt"/>
<line x1="660.0" y1="667.6" x2="667.0" y2="667.6" stroke="#e3141c" stroke-width="2.5" stroke-linecap="butt"/>
<polyline points="459.0,550.4 499.9,574.0 540.8,600.4 581.7,628.0 622.6,653.0 663.5,655.6" fill="none" stroke="#e3141c" stroke-width="3" stroke-linejoin="round" stroke-linecap="round"/>
<rect x="455.8" y="547.1999999999999" width="6.4" height="6.4" fill="#fff" stroke="#e3141c" stroke-width="2"/>
<rect x="496.7" y="570.8" width="6.4" height="6.4" fill="#fff" stroke="#e3141c" stroke-width="2"/>
<rect x="537.5999999999999" y="597.1999999999999" width="6.4" height="6.4" fill="#fff" stroke="#e3141c" stroke-width="2"/>
<rect x="578.5" y="624.8" width="6.4" height="6.4" fill="#fff" stroke="#e3141c" stroke-width="2"/>
<rect x="619.4" y="649.8" width="6.4" height="6.4" fill="#fff" stroke="#e3141c" stroke-width="2"/>
<rect x="660.3" y="652.4" width="6.4" height="6.4" fill="#fff" stroke="#e3141c" stroke-width="2"/>
<text transform="translate(499.90 527.38)" font-size="12.5" text-anchor="middle" font-weight="bold" fill="#000" stroke="#000" stroke-width="0.2">#</text>
<text transform="translate(540.80 545.38)" font-size="12.5" text-anchor="middle" font-weight="bold" fill="#000" stroke="#000" stroke-width="0.2">#</text>
<text transform="translate(581.70 578.38)" font-size="12.5" text-anchor="middle" font-weight="bold" fill="#000" stroke="#000" stroke-width="0.2">#</text>
<text transform="translate(622.60 617.38)" font-size="12.5" text-anchor="middle" font-weight="bold" fill="#000" stroke="#000" stroke-width="0.2">#</text>
<line x1="617.4" y1="527.4" x2="630.4" y2="527.4" stroke="#000" stroke-width="2" stroke-linecap="butt"/>
<circle cx="623.8" cy="527.4" r="3.6" fill="#fff" stroke="#000" stroke-width="2"/>
<text transform="translate(634.00 531.30) scale(1 1.1)" font-size="13.6" text-anchor="start" font-weight="bold" fill="#000" stroke="#000" stroke-width="0.3">DMSO</text>
<line x1="617.4" y1="545.6" x2="630.8" y2="545.6" stroke="#e3141c" stroke-width="2.5" stroke-linecap="butt"/>
<rect x="620.6" y="542.4" width="6.4" height="6.4" fill="#fff" stroke="#e3141c" stroke-width="2"/>
<text transform="translate(634.00 549.50) scale(1 1.1)" font-size="13.6" text-anchor="start" font-weight="bold" fill="#000" stroke="#000" stroke-width="0.3">Toma</text>
</svg></body></html>
